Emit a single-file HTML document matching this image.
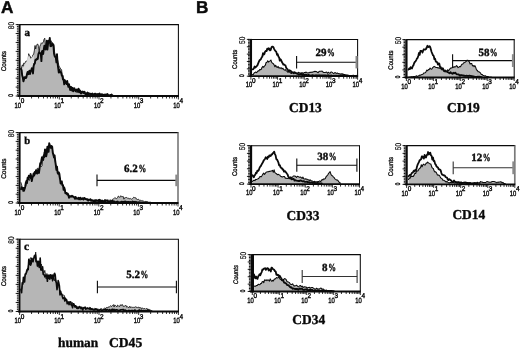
<!DOCTYPE html>
<html lang="en"><head><meta charset="utf-8"><title>Figure</title>
<style>html,body{margin:0;padding:0;background:#fff;}body{width:520px;height:348px;overflow:hidden;}svg{display:block;filter:blur(0.35px);text-rendering:geometricPrecision;font-family:"Liberation Sans",sans-serif;fill:#0a0a0a;}text{stroke:#0a0a0a;stroke-width:0.32px;}.b{stroke-width:0.4px;}.s{font-family:"Liberation Serif",serif;font-weight:bold;stroke:#0a0a0a;stroke-width:0.36px;}.h{font-family:"Liberation Sans",sans-serif;font-weight:bold;stroke:#0a0a0a;stroke-width:0.45px;}</style></head><body>
<svg width="520" height="348" viewBox="0 0 520 348">
<rect width="520" height="348" fill="#fff"/>
<text class="h" x="0.9" y="13.3" font-size="17.2">A</text>
<text class="h" x="196.0" y="13.2" font-size="17.2">B</text>
<path d="M21.0 96.0 L21.0 69.4 L21.7 66.6 L22.4 64.8 L23.1 66.2 L23.8 63.0 L24.5 63.3 L25.2 62.7 L25.9 61.2 L26.6 62.0 L27.3 60.0 L28.0 61.3 L28.7 53.7 L29.4 55.7 L30.1 55.9 L30.8 58.4 L31.5 57.9 L32.2 57.5 L32.9 54.8 L33.6 54.5 L34.3 50.9 L35.0 45.5 L35.7 49.0 L36.4 45.3 L37.1 44.3 L37.8 44.1 L38.5 46.5 L39.2 52.0 L39.9 46.1 L40.6 44.9 L41.3 42.8 L42.0 43.5 L42.7 42.9 L43.4 41.9 L44.1 39.1 L44.8 38.2 L45.5 46.3 L46.2 44.4 L46.9 42.3 L47.6 43.8 L48.3 40.6 L49.0 41.7 L49.7 43.3 L50.4 43.4 L51.1 40.7 L51.8 43.3 L52.5 42.8 L53.2 43.8 L53.9 45.6 L54.6 52.2 L55.3 55.5 L56.0 56.7 L56.7 56.6 L57.4 58.9 L58.1 62.3 L58.8 65.3 L59.5 67.0 L60.2 68.0 L60.9 69.4 L61.6 69.7 L62.3 76.8 L63.0 75.5 L63.7 80.4 L64.4 79.9 L65.1 82.3 L65.8 81.8 L66.5 82.6 L67.2 84.1 L67.9 85.7 L68.6 86.2 L69.3 86.4 L70.0 88.2 L70.7 88.1 L71.4 88.1 L72.1 89.6 L72.8 88.5 L73.5 90.2 L74.2 89.3 L74.9 90.8 L75.6 91.4 L76.3 91.9 L77.0 92.6 L77.7 91.2 L78.4 92.1 L79.1 92.6 L79.8 92.2 L80.5 93.4 L81.2 93.0 L81.9 92.3 L82.6 93.0 L83.3 93.0 L84.0 92.9 L84.7 94.0 L85.4 93.4 L86.1 94.6 L86.8 93.6 L87.5 94.0 L88.2 94.0 L88.9 94.0 L89.6 93.2 L90.3 93.8 L91.0 94.0 L91.7 95.1 L92.4 94.6 L93.1 94.4 L93.8 94.2 L94.5 94.4 L95.2 94.1 L95.9 94.8 L96.6 94.1 L97.3 95.1 L98.0 95.0 L98.7 94.6 L99.4 94.6 L100.1 94.8 L100.8 95.7 L101.5 95.0 L102.2 94.7 L102.9 94.2 L103.6 94.7 L104.3 94.7 L105.0 94.6 L105.7 95.8 L106.4 95.5 L107.1 95.5 L107.8 95.7 L108.5 95.2 L109.2 95.6 L109.9 95.1 L110.6 95.4 L111.3 95.8 L112.0 95.8 L112.7 95.5 L112.7 96.0Z" fill="#b6b6b6" stroke="none"/>
<path d="M21.0 69.4 L21.7 66.6 L22.4 64.8 L23.1 66.2 L23.8 63.0 L24.5 63.3 L25.2 62.7 L25.9 61.2 L26.6 62.0 L27.3 60.0 L28.0 61.3 L28.7 53.7 L29.4 55.7 L30.1 55.9 L30.8 58.4 L31.5 57.9 L32.2 57.5 L32.9 54.8 L33.6 54.5 L34.3 50.9 L35.0 45.5 L35.7 49.0 L36.4 45.3 L37.1 44.3 L37.8 44.1 L38.5 46.5 L39.2 52.0 L39.9 46.1 L40.6 44.9 L41.3 42.8 L42.0 43.5 L42.7 42.9 L43.4 41.9 L44.1 39.1 L44.8 38.2 L45.5 46.3 L46.2 44.4 L46.9 42.3 L47.6 43.8 L48.3 40.6 L49.0 41.7 L49.7 43.3 L50.4 43.4 L51.1 40.7 L51.8 43.3 L52.5 42.8 L53.2 43.8 L53.9 45.6 L54.6 52.2 L55.3 55.5 L56.0 56.7 L56.7 56.6 L57.4 58.9 L58.1 62.3 L58.8 65.3 L59.5 67.0 L60.2 68.0 L60.9 69.4 L61.6 69.7 L62.3 76.8 L63.0 75.5 L63.7 80.4 L64.4 79.9 L65.1 82.3 L65.8 81.8 L66.5 82.6 L67.2 84.1 L67.9 85.7 L68.6 86.2 L69.3 86.4 L70.0 88.2 L70.7 88.1 L71.4 88.1 L72.1 89.6 L72.8 88.5 L73.5 90.2 L74.2 89.3 L74.9 90.8 L75.6 91.4 L76.3 91.9 L77.0 92.6 L77.7 91.2 L78.4 92.1 L79.1 92.6 L79.8 92.2 L80.5 93.4 L81.2 93.0 L81.9 92.3 L82.6 93.0 L83.3 93.0 L84.0 92.9 L84.7 94.0 L85.4 93.4 L86.1 94.6 L86.8 93.6 L87.5 94.0 L88.2 94.0 L88.9 94.0 L89.6 93.2 L90.3 93.8 L91.0 94.0 L91.7 95.1 L92.4 94.6 L93.1 94.4 L93.8 94.2 L94.5 94.4 L95.2 94.1 L95.9 94.8 L96.6 94.1 L97.3 95.1 L98.0 95.0 L98.7 94.6 L99.4 94.6 L100.1 94.8 L100.8 95.7 L101.5 95.0 L102.2 94.7 L102.9 94.2 L103.6 94.7 L104.3 94.7 L105.0 94.6 L105.7 95.8 L106.4 95.5 L107.1 95.5 L107.8 95.7 L108.5 95.2 L109.2 95.6 L109.9 95.1 L110.6 95.4 L111.3 95.8 L112.0 95.8 L112.7 95.5" fill="none" stroke="#0a0a0a" stroke-width="0.80" stroke-linejoin="round" stroke-linecap="round"/>
<path d="M21.5 69.5 L24 66.6 L27 60.5 L28.7 55 L30.5 59 L32.1 57.6 L33.6 54.6 L34 63 L31 69 L27.5 72 L25.5 76 L24 80.5 L23 76 L22 71Z" fill="#dadada"/>
<path d="M21.0 68.8 L21.6 70.1 L22.2 75.6 L22.8 77.6 L23.4 81.4 L24.0 79.4 L24.6 77.1 L25.2 77.1 L25.8 78.1 L26.4 77.2 L27.0 74.0 L27.6 71.9 L28.2 74.2 L28.8 73.1 L29.4 70.7 L30.0 74.1 L30.6 72.0 L31.2 70.4 L31.8 68.3 L32.4 68.4 L33.0 73.5 L33.6 66.4 L34.2 63.8 L34.8 63.7 L35.4 59.9 L36.0 59.4 L36.6 59.7 L37.2 58.5 L37.8 59.0 L38.4 54.0 L39.0 52.5 L39.6 52.5 L40.2 53.4 L40.8 54.0 L41.4 61.1 L42.0 51.3 L42.6 50.9 L43.2 54.0 L43.8 49.2 L44.4 45.7 L45.0 48.5 L45.6 49.4 L46.2 46.0 L46.8 40.7 L47.4 49.6 L48.0 44.3 L48.6 40.6 L49.2 42.3 L49.8 38.0 L50.4 46.1 L51.0 46.2 L51.6 45.8 L52.2 43.5 L52.8 44.6 L53.4 44.6 L54.0 53.5 L54.6 56.0 L55.2 57.0 L55.8 57.4 L56.4 62.3 L57.0 54.1 L57.6 63.7 L58.2 68.1 L58.8 72.5 L59.4 69.7 L60.0 72.4 L60.6 71.8 L61.2 72.7 L61.8 75.5 L62.4 76.1 L63.0 79.6 L63.6 79.3 L64.2 84.4 L64.8 80.2 L65.4 81.6 L66.0 83.0 L66.6 84.1 L67.2 81.0 L67.8 84.5 L68.4 86.9 L69.0 84.1 L69.6 87.2 L70.2 90.0 L70.8 86.9 L71.4 87.3 L72.0 90.5 L72.6 87.9 L73.2 91.4 L73.8 88.6 L74.4 88.2 L75.0 90.1 L75.6 91.2 L76.2 89.9 L76.8 89.4 L77.4 91.6 L78.0 90.3 L78.6 88.7 L79.2 92.3 L79.8 90.3 L80.4 91.2 L81.0 93.5 L81.6 92.2 L82.2 91.5 L82.8 91.9 L83.4 93.0 L84.0 91.7 L84.6 91.9 L85.2 93.8 L85.8 94.1 L86.4 93.2 L87.0 94.3 L87.6 92.6 L88.2 94.4 L88.8 93.3 L89.4 93.8 L90.0 94.2 L90.6 93.7 L91.2 94.5 L91.8 93.9 L92.4 93.6 L93.0 95.0 L93.6 94.9 L94.2 94.1 L94.8 93.7 L95.4 93.8 L96.0 94.4 L96.6 94.2 L97.2 94.4 L97.8 94.1 L98.4 95.4 L99.0 93.9 L99.6 93.6 L100.2 95.4 L100.8 94.8 L101.4 94.3 L102.0 94.6 L102.6 94.4 L103.2 95.1 L103.8 94.9 L104.4 94.8 L105.0 94.5 L105.6 95.0 L106.2 94.4 L106.8 94.8 L107.4 94.0 L108.0 94.9 L108.6 95.4 L109.2 95.7 L109.8 95.5 L110.4 94.9 L111.0 95.7 L111.6 94.5 L112.2 95.2 L112.8 95.7" fill="none" stroke="#0a0a0a" stroke-width="1.90" stroke-linejoin="round" stroke-linecap="round"/>
<path d="M19.60 24.60 H178.90" fill="none" stroke="#0a0a0a" stroke-width="1.05"/>
<path d="M178.40 24.60 V96.00" fill="none" stroke="#0a0a0a" stroke-width="1.05"/>
<path d="M18.10 96.00 H178.90" stroke="#0a0a0a" stroke-width="1.8"/>
<path d="M19.60 24.10 V96.80" stroke="#0a0a0a" stroke-width="2.00"/>
<path d="M16.90 96.00 H18.60M16.90 94.22 H18.60M16.90 92.43 H18.60M16.90 90.64 H18.60M16.90 88.86 H18.60M16.90 87.08 H18.60M16.90 85.29 H18.60M16.90 83.50 H18.60M16.90 81.72 H18.60M16.90 79.94 H18.60M16.90 78.15 H18.60M16.90 76.36 H18.60M16.90 74.58 H18.60M16.90 72.80 H18.60M16.90 71.01 H18.60M16.90 69.22 H18.60M16.90 67.44 H18.60M16.90 65.66 H18.60M16.90 63.87 H18.60M16.90 62.08 H18.60M16.90 60.30 H18.60M16.90 58.52 H18.60M16.90 56.73 H18.60M16.90 54.95 H18.60M16.90 53.16 H18.60M16.90 51.37 H18.60M16.90 49.59 H18.60M16.90 47.80 H18.60M16.90 46.02 H18.60M16.90 44.23 H18.60M16.90 42.45 H18.60M16.90 40.66 H18.60M16.90 38.88 H18.60M16.90 37.09 H18.60M16.90 35.31 H18.60M16.90 33.52 H18.60M16.90 31.74 H18.60M16.90 29.95 H18.60M16.90 28.17 H18.60M16.90 26.38 H18.60M16.90 24.60 H18.60" stroke="#0a0a0a" stroke-width="1.0"/>
<path d="M15.70 96.00 H18.60M15.70 87.08 H18.60M15.70 78.15 H18.60M15.70 69.22 H18.60M15.70 60.30 H18.60M15.70 51.38 H18.60M15.70 42.45 H18.60M15.70 33.52 H18.60M15.70 24.60 H18.60" stroke="#0a0a0a" stroke-width="0.9"/>
<path d="M19.60 96.00 V99.50M31.55 96.00 V98.50M38.54 96.00 V98.50M43.50 96.00 V98.50M47.35 96.00 V98.50M50.49 96.00 V98.50M53.15 96.00 V98.50M55.45 96.00 V98.50M57.48 96.00 V98.50M59.30 96.00 V99.50M71.25 96.00 V98.50M78.24 96.00 V98.50M83.20 96.00 V98.50M87.05 96.00 V98.50M90.19 96.00 V98.50M92.85 96.00 V98.50M95.15 96.00 V98.50M97.18 96.00 V98.50M99.00 96.00 V99.50M110.95 96.00 V98.50M117.94 96.00 V98.50M122.90 96.00 V98.50M126.75 96.00 V98.50M129.89 96.00 V98.50M132.55 96.00 V98.50M134.85 96.00 V98.50M136.88 96.00 V98.50M138.70 96.00 V99.50M150.65 96.00 V98.50M157.64 96.00 V98.50M162.60 96.00 V98.50M166.45 96.00 V98.50M169.59 96.00 V98.50M172.25 96.00 V98.50M174.55 96.00 V98.50M176.58 96.00 V98.50M178.40 96.00 V99.50" stroke="#0a0a0a" stroke-width="0.85"/>
<text class="b" transform="translate(21.05 107.70) scale(0.77 1)" font-size="7.6" text-anchor="end">10</text>
<text class="b" transform="translate(20.70 103.30) scale(0.92 1)" font-size="7.0">0</text>
<text class="b" transform="translate(60.75 107.70) scale(0.77 1)" font-size="7.6" text-anchor="end">10</text>
<text class="b" transform="translate(60.40 103.30) scale(0.92 1)" font-size="7.0">1</text>
<text class="b" transform="translate(100.45 107.70) scale(0.77 1)" font-size="7.6" text-anchor="end">10</text>
<text class="b" transform="translate(100.10 103.30) scale(0.92 1)" font-size="7.0">2</text>
<text class="b" transform="translate(140.15 107.70) scale(0.77 1)" font-size="7.6" text-anchor="end">10</text>
<text class="b" transform="translate(139.80 103.30) scale(0.92 1)" font-size="7.0">3</text>
<text class="b" transform="translate(179.85 107.70) scale(0.77 1)" font-size="7.6" text-anchor="end">10</text>
<text class="b" transform="translate(179.50 103.30) scale(0.92 1)" font-size="7.0">4</text>
<text transform="translate(14.20 25.50) rotate(-90) scale(0.8 1)" font-size="8.2" text-anchor="middle" style="stroke-width:0.22px">80</text>
<text class="b" transform="translate(13.20 95.50) rotate(-90) scale(0.72 1)" font-size="6.6" text-anchor="middle">0</text>
<text transform="translate(6.20 61.10) rotate(-90) scale(0.960 1)" font-size="6.7" text-anchor="middle">Counts</text>
<text class="s" x="24.4" y="35.5" font-size="11">a</text>
<path d="M21.0 203.0 L21.0 182.6 L21.7 185.0 L22.4 188.6 L23.1 191.7 L23.8 188.1 L24.5 188.1 L25.2 188.2 L25.9 185.9 L26.6 182.6 L27.3 179.6 L28.0 177.4 L28.7 178.8 L29.4 180.5 L30.1 178.1 L30.8 179.0 L31.5 176.3 L32.2 176.5 L32.9 177.0 L33.6 175.5 L34.3 172.6 L35.0 173.0 L35.7 173.0 L36.4 171.6 L37.1 168.8 L37.8 167.9 L38.5 169.8 L39.2 168.0 L39.9 167.0 L40.6 165.5 L41.3 166.7 L42.0 166.0 L42.7 159.9 L43.4 158.2 L44.1 152.5 L44.8 153.5 L45.5 151.0 L46.2 151.0 L46.9 148.4 L47.6 151.8 L48.3 145.6 L49.0 145.0 L49.7 148.0 L50.4 148.5 L51.1 146.8 L51.8 147.9 L52.5 149.7 L53.2 155.2 L53.9 156.7 L54.6 157.5 L55.3 162.0 L56.0 165.9 L56.7 170.2 L57.4 170.1 L58.1 172.3 L58.8 173.3 L59.5 179.2 L60.2 177.8 L60.9 181.8 L61.6 182.8 L62.3 184.6 L63.0 186.3 L63.7 187.3 L64.4 189.7 L65.1 190.9 L65.8 193.5 L66.5 193.3 L67.2 195.2 L67.9 194.7 L68.6 196.2 L69.3 195.6 L70.0 196.2 L70.7 197.5 L71.4 197.2 L72.1 196.9 L72.8 196.7 L73.5 196.1 L74.2 197.6 L74.9 197.8 L75.6 197.7 L76.3 198.2 L77.0 198.4 L77.7 198.2 L78.4 199.1 L79.1 198.5 L79.8 198.9 L80.5 200.2 L81.2 198.1 L81.9 198.8 L82.6 199.2 L83.3 199.9 L84.0 199.5 L84.7 199.0 L85.4 199.1 L86.1 200.2 L86.8 199.8 L87.5 200.6 L88.2 200.2 L88.9 200.1 L89.6 199.7 L90.3 199.1 L91.0 199.6 L91.7 199.8 L92.4 199.9 L93.1 200.2 L93.8 199.9 L94.5 201.4 L95.2 201.1 L95.9 201.2 L96.6 201.5 L97.3 201.1 L98.0 201.4 L98.7 201.4 L99.4 201.3 L100.1 201.4 L100.8 201.1 L101.5 201.3 L102.2 201.4 L102.9 201.5 L103.6 201.1 L104.3 200.7 L105.0 200.8 L105.7 200.1 L106.4 200.7 L107.1 199.8 L107.8 200.2 L108.5 200.2 L109.2 200.2 L109.9 200.4 L110.6 199.8 L111.3 200.5 L112.0 199.9 L112.7 199.2 L113.4 199.1 L114.1 198.3 L114.8 197.6 L115.5 198.1 L116.2 198.6 L116.9 198.4 L117.6 197.8 L118.3 196.0 L119.0 196.7 L119.7 197.5 L120.4 196.0 L121.1 195.8 L121.8 196.8 L122.5 196.6 L123.2 196.4 L123.9 199.2 L124.6 197.8 L125.3 197.7 L126.0 197.6 L126.7 197.4 L127.4 198.2 L128.1 198.5 L128.8 198.0 L129.5 198.9 L130.2 198.4 L130.9 198.9 L131.6 199.2 L132.3 198.8 L133.0 198.1 L133.7 197.2 L134.4 197.5 L135.1 197.9 L135.8 197.7 L136.5 199.2 L137.2 199.4 L137.9 199.6 L138.6 199.2 L139.3 200.1 L140.0 200.8 L140.7 200.0 L141.4 200.7 L142.1 200.4 L142.8 201.0 L143.5 200.9 L144.2 201.6 L144.9 202.4 L145.6 201.4 L146.3 201.6 L147.0 202.0 L147.7 202.2 L148.4 202.4 L149.1 202.8 L149.8 202.8 L150.5 202.9 L151.2 202.8 L151.9 203.0 L152.6 203.0 L152.6 203.0Z" fill="#b6b6b6" stroke="none"/>
<path d="M21.0 182.6 L21.7 185.0 L22.4 188.6 L23.1 191.7 L23.8 188.1 L24.5 188.1 L25.2 188.2 L25.9 185.9 L26.6 182.6 L27.3 179.6 L28.0 177.4 L28.7 178.8 L29.4 180.5 L30.1 178.1 L30.8 179.0 L31.5 176.3 L32.2 176.5 L32.9 177.0 L33.6 175.5 L34.3 172.6 L35.0 173.0 L35.7 173.0 L36.4 171.6 L37.1 168.8 L37.8 167.9 L38.5 169.8 L39.2 168.0 L39.9 167.0 L40.6 165.5 L41.3 166.7 L42.0 166.0 L42.7 159.9 L43.4 158.2 L44.1 152.5 L44.8 153.5 L45.5 151.0 L46.2 151.0 L46.9 148.4 L47.6 151.8 L48.3 145.6 L49.0 145.0 L49.7 148.0 L50.4 148.5 L51.1 146.8 L51.8 147.9 L52.5 149.7 L53.2 155.2 L53.9 156.7 L54.6 157.5 L55.3 162.0 L56.0 165.9 L56.7 170.2 L57.4 170.1 L58.1 172.3 L58.8 173.3 L59.5 179.2 L60.2 177.8 L60.9 181.8 L61.6 182.8 L62.3 184.6 L63.0 186.3 L63.7 187.3 L64.4 189.7 L65.1 190.9 L65.8 193.5 L66.5 193.3 L67.2 195.2 L67.9 194.7 L68.6 196.2 L69.3 195.6 L70.0 196.2 L70.7 197.5 L71.4 197.2 L72.1 196.9 L72.8 196.7 L73.5 196.1 L74.2 197.6 L74.9 197.8 L75.6 197.7 L76.3 198.2 L77.0 198.4 L77.7 198.2 L78.4 199.1 L79.1 198.5 L79.8 198.9 L80.5 200.2 L81.2 198.1 L81.9 198.8 L82.6 199.2 L83.3 199.9 L84.0 199.5 L84.7 199.0 L85.4 199.1 L86.1 200.2 L86.8 199.8 L87.5 200.6 L88.2 200.2 L88.9 200.1 L89.6 199.7 L90.3 199.1 L91.0 199.6 L91.7 199.8 L92.4 199.9 L93.1 200.2 L93.8 199.9 L94.5 201.4 L95.2 201.1 L95.9 201.2 L96.6 201.5 L97.3 201.1 L98.0 201.4 L98.7 201.4 L99.4 201.3 L100.1 201.4 L100.8 201.1 L101.5 201.3 L102.2 201.4 L102.9 201.5 L103.6 201.1 L104.3 200.7 L105.0 200.8 L105.7 200.1 L106.4 200.7 L107.1 199.8 L107.8 200.2 L108.5 200.2 L109.2 200.2 L109.9 200.4 L110.6 199.8 L111.3 200.5 L112.0 199.9 L112.7 199.2 L113.4 199.1 L114.1 198.3 L114.8 197.6 L115.5 198.1 L116.2 198.6 L116.9 198.4 L117.6 197.8 L118.3 196.0 L119.0 196.7 L119.7 197.5 L120.4 196.0 L121.1 195.8 L121.8 196.8 L122.5 196.6 L123.2 196.4 L123.9 199.2 L124.6 197.8 L125.3 197.7 L126.0 197.6 L126.7 197.4 L127.4 198.2 L128.1 198.5 L128.8 198.0 L129.5 198.9 L130.2 198.4 L130.9 198.9 L131.6 199.2 L132.3 198.8 L133.0 198.1 L133.7 197.2 L134.4 197.5 L135.1 197.9 L135.8 197.7 L136.5 199.2 L137.2 199.4 L137.9 199.6 L138.6 199.2 L139.3 200.1 L140.0 200.8 L140.7 200.0 L141.4 200.7 L142.1 200.4 L142.8 201.0 L143.5 200.9 L144.2 201.6 L144.9 202.4 L145.6 201.4 L146.3 201.6 L147.0 202.0 L147.7 202.2 L148.4 202.4 L149.1 202.8 L149.8 202.8 L150.5 202.9 L151.2 202.8 L151.9 203.0 L152.6 203.0" fill="none" stroke="#0a0a0a" stroke-width="0.80" stroke-linejoin="round" stroke-linecap="round"/>
<path d="M21.0 189.2 L21.6 187.2 L22.2 188.0 L22.8 189.5 L23.4 187.9 L24.0 190.7 L24.6 189.0 L25.2 186.4 L25.8 182.8 L26.4 181.1 L27.0 183.1 L27.6 177.8 L28.2 179.4 L28.8 175.8 L29.4 176.5 L30.0 177.5 L30.6 174.0 L31.2 176.3 L31.8 181.1 L32.4 177.8 L33.0 176.3 L33.6 173.5 L34.2 175.6 L34.8 172.0 L35.4 173.6 L36.0 170.2 L36.6 173.1 L37.2 173.6 L37.8 170.4 L38.4 170.0 L39.0 173.0 L39.6 168.1 L40.2 163.3 L40.8 164.1 L41.4 160.2 L42.0 157.2 L42.6 157.6 L43.2 160.0 L43.8 155.1 L44.4 157.0 L45.0 149.4 L45.6 152.5 L46.2 156.4 L46.8 153.3 L47.4 146.7 L48.0 149.5 L48.6 151.9 L49.2 143.3 L49.8 145.0 L50.4 146.9 L51.0 147.7 L51.6 146.0 L52.2 146.8 L52.8 152.8 L53.4 154.4 L54.0 157.5 L54.6 155.4 L55.2 160.6 L55.8 165.1 L56.4 169.8 L57.0 166.7 L57.6 172.7 L58.2 173.8 L58.8 172.4 L59.4 173.9 L60.0 178.5 L60.6 183.5 L61.2 182.3 L61.8 181.4 L62.4 185.4 L63.0 185.1 L63.6 189.8 L64.2 187.4 L64.8 189.5 L65.4 193.4 L66.0 193.0 L66.6 193.0 L67.2 194.3 L67.8 193.6 L68.4 195.2 L69.0 197.8 L69.6 196.4 L70.2 196.3 L70.8 196.3 L71.4 196.3 L72.0 195.7 L72.6 196.2 L73.2 196.8 L73.8 196.9 L74.4 197.7 L75.0 198.7 L75.6 196.9 L76.2 198.5 L76.8 198.2 L77.4 198.7 L78.0 198.5 L78.6 197.7 L79.2 199.3 L79.8 198.3 L80.4 197.7 L81.0 198.6 L81.6 199.1 L82.2 198.4 L82.8 198.3 L83.4 199.4 L84.0 198.2 L84.6 198.0 L85.2 199.0 L85.8 198.9 L86.4 199.1 L87.0 199.2 L87.6 199.2 L88.2 200.6 L88.8 199.7 L89.4 199.7 L90.0 199.9 L90.6 199.3 L91.2 200.8 L91.8 200.6 L92.4 200.4 L93.0 201.0 L93.6 201.5 L94.2 201.1 L94.8 200.2 L95.4 201.0 L96.0 200.1 L96.6 200.5 L97.2 200.9 L97.8 200.9 L98.4 200.1 L99.0 201.3 L99.6 199.8 L100.2 200.3 L100.8 201.6 L101.4 201.0 L102.0 200.5 L102.6 201.1 L103.2 201.5 L103.8 201.1 L104.4 201.5 L105.0 200.1 L105.6 201.0 L106.2 200.4 L106.8 200.9 L107.4 200.6 L108.0 201.3 L108.6 202.4 L109.2 201.7 L109.8 201.9 L110.4 201.0 L111.0 202.0 L111.6 201.7 L112.2 200.7 L112.8 201.4 L113.4 201.2 L114.0 202.1 L114.6 201.6 L115.2 202.8 L115.8 202.5 L116.4 201.8 L117.0 202.2 L117.6 201.6 L118.2 202.1 L118.8 202.3 L119.4 202.7 L120.0 202.2 L120.6 202.2 L121.2 202.0 L121.8 201.7 L122.4 202.0 L123.0 202.0 L123.6 202.2 L124.2 201.6 L124.8 202.4 L125.4 201.5 L126.0 201.9 L126.6 202.3 L127.2 202.0 L127.8 202.4 L128.4 201.9 L129.0 202.1 L129.6 202.2 L130.2 202.0 L130.8 202.2 L131.4 202.6 L132.0 202.0 L132.6 201.5 L133.2 202.1 L133.8 202.0 L134.4 202.1 L135.0 201.7 L135.6 202.6 L136.2 201.9 L136.8 202.4 L137.4 202.7 L138.0 202.5 L138.6 202.3 L139.2 202.3 L139.8 202.7 L140.4 202.5 L141.0 202.6 L141.6 202.6 L142.2 202.5 L142.8 202.8 L143.4 202.6 L144.0 202.6 L144.6 202.9 L145.2 202.5 L145.8 202.6 L146.4 202.9 L147.0 202.4 L147.6 202.8 L148.2 202.6 L148.8 202.8 L149.4 203.0 L150.0 202.6" fill="none" stroke="#0a0a0a" stroke-width="1.90" stroke-linejoin="round" stroke-linecap="round"/>
<path d="M19.60 132.60 H178.50" fill="none" stroke="#0a0a0a" stroke-width="1.05"/>
<path d="M178.00 132.60 V203.00" fill="none" stroke="#6e6e6e" stroke-width="1.50"/>
<path d="M18.10 203.00 H178.50" stroke="#0a0a0a" stroke-width="1.8"/>
<path d="M19.60 132.10 V203.80" stroke="#0a0a0a" stroke-width="2.00"/>
<path d="M16.90 203.00 H18.60M16.90 201.24 H18.60M16.90 199.48 H18.60M16.90 197.72 H18.60M16.90 195.96 H18.60M16.90 194.20 H18.60M16.90 192.44 H18.60M16.90 190.68 H18.60M16.90 188.92 H18.60M16.90 187.16 H18.60M16.90 185.40 H18.60M16.90 183.64 H18.60M16.90 181.88 H18.60M16.90 180.12 H18.60M16.90 178.36 H18.60M16.90 176.60 H18.60M16.90 174.84 H18.60M16.90 173.08 H18.60M16.90 171.32 H18.60M16.90 169.56 H18.60M16.90 167.80 H18.60M16.90 166.04 H18.60M16.90 164.28 H18.60M16.90 162.52 H18.60M16.90 160.76 H18.60M16.90 159.00 H18.60M16.90 157.24 H18.60M16.90 155.48 H18.60M16.90 153.72 H18.60M16.90 151.96 H18.60M16.90 150.20 H18.60M16.90 148.44 H18.60M16.90 146.68 H18.60M16.90 144.92 H18.60M16.90 143.16 H18.60M16.90 141.40 H18.60M16.90 139.64 H18.60M16.90 137.88 H18.60M16.90 136.12 H18.60M16.90 134.36 H18.60M16.90 132.60 H18.60" stroke="#0a0a0a" stroke-width="1.0"/>
<path d="M15.70 203.00 H18.60M15.70 194.20 H18.60M15.70 185.40 H18.60M15.70 176.60 H18.60M15.70 167.80 H18.60M15.70 159.00 H18.60M15.70 150.20 H18.60M15.70 141.40 H18.60M15.70 132.60 H18.60" stroke="#0a0a0a" stroke-width="0.9"/>
<path d="M19.60 203.00 V206.50M31.52 203.00 V205.50M38.49 203.00 V205.50M43.44 203.00 V205.50M47.28 203.00 V205.50M50.41 203.00 V205.50M53.07 203.00 V205.50M55.36 203.00 V205.50M57.39 203.00 V205.50M59.20 203.00 V206.50M71.12 203.00 V205.50M78.09 203.00 V205.50M83.04 203.00 V205.50M86.88 203.00 V205.50M90.01 203.00 V205.50M92.67 203.00 V205.50M94.96 203.00 V205.50M96.99 203.00 V205.50M98.80 203.00 V206.50M110.72 203.00 V205.50M117.69 203.00 V205.50M122.64 203.00 V205.50M126.48 203.00 V205.50M129.61 203.00 V205.50M132.27 203.00 V205.50M134.56 203.00 V205.50M136.59 203.00 V205.50M138.40 203.00 V206.50M150.32 203.00 V205.50M157.29 203.00 V205.50M162.24 203.00 V205.50M166.08 203.00 V205.50M169.21 203.00 V205.50M171.87 203.00 V205.50M174.16 203.00 V205.50M176.19 203.00 V205.50M178.00 203.00 V206.50" stroke="#0a0a0a" stroke-width="0.85"/>
<text class="b" transform="translate(21.05 214.70) scale(0.77 1)" font-size="7.6" text-anchor="end">10</text>
<text class="b" transform="translate(20.70 210.30) scale(0.92 1)" font-size="7.0">0</text>
<text class="b" transform="translate(60.65 214.70) scale(0.77 1)" font-size="7.6" text-anchor="end">10</text>
<text class="b" transform="translate(60.30 210.30) scale(0.92 1)" font-size="7.0">1</text>
<text class="b" transform="translate(100.25 214.70) scale(0.77 1)" font-size="7.6" text-anchor="end">10</text>
<text class="b" transform="translate(99.90 210.30) scale(0.92 1)" font-size="7.0">2</text>
<text class="b" transform="translate(139.85 214.70) scale(0.77 1)" font-size="7.6" text-anchor="end">10</text>
<text class="b" transform="translate(139.50 210.30) scale(0.92 1)" font-size="7.0">3</text>
<text class="b" transform="translate(179.45 214.70) scale(0.77 1)" font-size="7.6" text-anchor="end">10</text>
<text class="b" transform="translate(179.10 210.30) scale(0.92 1)" font-size="7.0">4</text>
<text transform="translate(14.20 133.50) rotate(-90) scale(0.8 1)" font-size="8.2" text-anchor="middle" style="stroke-width:0.22px">80</text>
<text class="b" transform="translate(13.20 202.50) rotate(-90) scale(0.72 1)" font-size="6.6" text-anchor="middle">0</text>
<text transform="translate(6.20 168.60) rotate(-90) scale(0.960 1)" font-size="6.7" text-anchor="middle">Counts</text>
<text class="s" x="24.3" y="143.8" font-size="10.6">b</text>
<path d="M97.0 180.4 H176.0" stroke="#0a0a0a" stroke-width="1.1"/>
<path d="M97.0 174.6 V186.2" stroke="#0a0a0a" stroke-width="1.1"/>
<path d="M176.4 174.6 V186.2" stroke="#8a8a8a" stroke-width="2.2"/>
<text class="s" x="124.1" y="171.5" font-size="11">6.2<tspan x="138.5" textLength="7.7" lengthAdjust="spacingAndGlyphs">%</tspan></text>
<path d="M21.0 311.5 L21.0 289.1 L21.7 289.5 L22.4 285.8 L23.1 283.2 L23.8 280.3 L24.5 277.0 L25.2 275.3 L25.9 273.1 L26.6 269.7 L27.3 269.1 L28.0 267.4 L28.7 263.3 L29.4 263.0 L30.1 258.1 L30.8 257.7 L31.5 259.4 L32.2 261.1 L32.9 261.4 L33.6 257.4 L34.3 255.1 L35.0 257.9 L35.7 252.1 L36.4 259.4 L37.1 266.5 L37.8 266.7 L38.5 265.2 L39.2 268.1 L39.9 265.0 L40.6 268.0 L41.3 264.0 L42.0 267.6 L42.7 269.5 L43.4 273.5 L44.1 272.6 L44.8 270.4 L45.5 275.0 L46.2 279.0 L46.9 273.5 L47.6 279.1 L48.3 276.3 L49.0 277.4 L49.7 278.4 L50.4 275.3 L51.1 275.5 L51.8 278.4 L52.5 281.4 L53.2 277.5 L53.9 277.4 L54.6 280.8 L55.3 277.8 L56.0 282.0 L56.7 282.4 L57.4 284.8 L58.1 284.3 L58.8 286.7 L59.5 288.9 L60.2 294.3 L60.9 294.9 L61.6 293.8 L62.3 295.2 L63.0 295.6 L63.7 295.0 L64.4 295.5 L65.1 299.1 L65.8 298.8 L66.5 301.3 L67.2 301.1 L67.9 301.5 L68.6 303.1 L69.3 304.0 L70.0 305.0 L70.7 303.8 L71.4 304.7 L72.1 302.2 L72.8 304.6 L73.5 304.8 L74.2 305.0 L74.9 305.9 L75.6 306.9 L76.3 307.0 L77.0 307.1 L77.7 306.6 L78.4 307.1 L79.1 308.2 L79.8 307.5 L80.5 308.0 L81.2 307.2 L81.9 306.9 L82.6 307.3 L83.3 308.6 L84.0 307.5 L84.7 308.7 L85.4 308.2 L86.1 308.6 L86.8 308.7 L87.5 307.5 L88.2 308.0 L88.9 308.0 L89.6 309.5 L90.3 310.1 L91.0 308.8 L91.7 308.9 L92.4 308.4 L93.1 309.2 L93.8 308.6 L94.5 308.3 L95.2 309.0 L95.9 308.1 L96.6 309.5 L97.3 309.2 L98.0 309.6 L98.7 309.2 L99.4 309.5 L100.1 308.7 L100.8 309.2 L101.5 308.6 L102.2 309.2 L102.9 309.4 L103.6 308.7 L104.3 308.1 L105.0 308.6 L105.7 308.3 L106.4 307.5 L107.1 307.3 L107.8 307.9 L108.5 306.8 L109.2 307.4 L109.9 306.3 L110.6 305.6 L111.3 306.5 L112.0 306.2 L112.7 305.3 L113.4 304.6 L114.1 307.0 L114.8 304.9 L115.5 305.5 L116.2 306.0 L116.9 306.9 L117.6 305.1 L118.3 305.6 L119.0 306.6 L119.7 306.4 L120.4 304.7 L121.1 305.8 L121.8 304.6 L122.5 304.7 L123.2 306.5 L123.9 306.1 L124.6 306.1 L125.3 305.7 L126.0 305.3 L126.7 307.2 L127.4 306.5 L128.1 307.6 L128.8 307.5 L129.5 306.3 L130.2 307.8 L130.9 306.6 L131.6 307.4 L132.3 307.3 L133.0 307.6 L133.7 307.3 L134.4 307.3 L135.1 307.5 L135.8 306.5 L136.5 307.5 L137.2 307.4 L137.9 307.6 L138.6 307.0 L139.3 308.2 L140.0 307.2 L140.7 308.4 L141.4 308.9 L142.1 307.7 L142.8 308.7 L143.5 308.7 L144.2 308.6 L144.9 308.4 L145.6 309.2 L146.3 308.8 L147.0 308.2 L147.7 310.0 L148.4 309.3 L149.1 309.2 L149.8 310.0 L150.5 309.9 L151.2 310.6 L151.9 310.4 L152.6 311.4 L152.6 311.5Z" fill="#b6b6b6" stroke="none"/>
<path d="M21.0 289.1 L21.7 289.5 L22.4 285.8 L23.1 283.2 L23.8 280.3 L24.5 277.0 L25.2 275.3 L25.9 273.1 L26.6 269.7 L27.3 269.1 L28.0 267.4 L28.7 263.3 L29.4 263.0 L30.1 258.1 L30.8 257.7 L31.5 259.4 L32.2 261.1 L32.9 261.4 L33.6 257.4 L34.3 255.1 L35.0 257.9 L35.7 252.1 L36.4 259.4 L37.1 266.5 L37.8 266.7 L38.5 265.2 L39.2 268.1 L39.9 265.0 L40.6 268.0 L41.3 264.0 L42.0 267.6 L42.7 269.5 L43.4 273.5 L44.1 272.6 L44.8 270.4 L45.5 275.0 L46.2 279.0 L46.9 273.5 L47.6 279.1 L48.3 276.3 L49.0 277.4 L49.7 278.4 L50.4 275.3 L51.1 275.5 L51.8 278.4 L52.5 281.4 L53.2 277.5 L53.9 277.4 L54.6 280.8 L55.3 277.8 L56.0 282.0 L56.7 282.4 L57.4 284.8 L58.1 284.3 L58.8 286.7 L59.5 288.9 L60.2 294.3 L60.9 294.9 L61.6 293.8 L62.3 295.2 L63.0 295.6 L63.7 295.0 L64.4 295.5 L65.1 299.1 L65.8 298.8 L66.5 301.3 L67.2 301.1 L67.9 301.5 L68.6 303.1 L69.3 304.0 L70.0 305.0 L70.7 303.8 L71.4 304.7 L72.1 302.2 L72.8 304.6 L73.5 304.8 L74.2 305.0 L74.9 305.9 L75.6 306.9 L76.3 307.0 L77.0 307.1 L77.7 306.6 L78.4 307.1 L79.1 308.2 L79.8 307.5 L80.5 308.0 L81.2 307.2 L81.9 306.9 L82.6 307.3 L83.3 308.6 L84.0 307.5 L84.7 308.7 L85.4 308.2 L86.1 308.6 L86.8 308.7 L87.5 307.5 L88.2 308.0 L88.9 308.0 L89.6 309.5 L90.3 310.1 L91.0 308.8 L91.7 308.9 L92.4 308.4 L93.1 309.2 L93.8 308.6 L94.5 308.3 L95.2 309.0 L95.9 308.1 L96.6 309.5 L97.3 309.2 L98.0 309.6 L98.7 309.2 L99.4 309.5 L100.1 308.7 L100.8 309.2 L101.5 308.6 L102.2 309.2 L102.9 309.4 L103.6 308.7 L104.3 308.1 L105.0 308.6 L105.7 308.3 L106.4 307.5 L107.1 307.3 L107.8 307.9 L108.5 306.8 L109.2 307.4 L109.9 306.3 L110.6 305.6 L111.3 306.5 L112.0 306.2 L112.7 305.3 L113.4 304.6 L114.1 307.0 L114.8 304.9 L115.5 305.5 L116.2 306.0 L116.9 306.9 L117.6 305.1 L118.3 305.6 L119.0 306.6 L119.7 306.4 L120.4 304.7 L121.1 305.8 L121.8 304.6 L122.5 304.7 L123.2 306.5 L123.9 306.1 L124.6 306.1 L125.3 305.7 L126.0 305.3 L126.7 307.2 L127.4 306.5 L128.1 307.6 L128.8 307.5 L129.5 306.3 L130.2 307.8 L130.9 306.6 L131.6 307.4 L132.3 307.3 L133.0 307.6 L133.7 307.3 L134.4 307.3 L135.1 307.5 L135.8 306.5 L136.5 307.5 L137.2 307.4 L137.9 307.6 L138.6 307.0 L139.3 308.2 L140.0 307.2 L140.7 308.4 L141.4 308.9 L142.1 307.7 L142.8 308.7 L143.5 308.7 L144.2 308.6 L144.9 308.4 L145.6 309.2 L146.3 308.8 L147.0 308.2 L147.7 310.0 L148.4 309.3 L149.1 309.2 L149.8 310.0 L150.5 309.9 L151.2 310.6 L151.9 310.4 L152.6 311.4" fill="none" stroke="#0a0a0a" stroke-width="0.80" stroke-linejoin="round" stroke-linecap="round"/>
<path d="M21.0 289.6 L21.6 292.7 L22.2 282.9 L22.8 284.0 L23.4 277.2 L24.0 279.2 L24.6 282.0 L25.2 274.0 L25.8 274.3 L26.4 272.8 L27.0 270.9 L27.6 268.9 L28.2 269.7 L28.8 259.4 L29.4 264.5 L30.0 260.6 L30.6 265.2 L31.2 263.4 L31.8 258.2 L32.4 259.9 L33.0 261.8 L33.6 258.7 L34.2 257.6 L34.8 256.4 L35.4 254.8 L36.0 261.8 L36.6 261.3 L37.2 261.4 L37.8 265.8 L38.4 261.3 L39.0 264.1 L39.6 267.0 L40.2 258.0 L40.8 270.0 L41.4 269.7 L42.0 270.2 L42.6 266.9 L43.2 274.3 L43.8 274.6 L44.4 275.2 L45.0 277.0 L45.6 275.6 L46.2 275.3 L46.8 275.7 L47.4 281.3 L48.0 275.0 L48.6 278.3 L49.2 275.3 L49.8 279.2 L50.4 274.8 L51.0 275.2 L51.6 278.3 L52.2 275.1 L52.8 280.1 L53.4 278.3 L54.0 274.3 L54.6 273.3 L55.2 274.9 L55.8 281.0 L56.4 283.3 L57.0 289.6 L57.6 285.7 L58.2 280.6 L58.8 282.8 L59.4 285.8 L60.0 294.9 L60.6 291.3 L61.2 293.6 L61.8 294.3 L62.4 296.8 L63.0 298.6 L63.6 297.9 L64.2 297.6 L64.8 301.0 L65.4 298.3 L66.0 300.3 L66.6 299.7 L67.2 303.8 L67.8 303.2 L68.4 302.0 L69.0 304.7 L69.6 302.0 L70.2 301.9 L70.8 302.0 L71.4 305.4 L72.0 305.3 L72.6 307.7 L73.2 303.8 L73.8 303.7 L74.4 305.4 L75.0 307.1 L75.6 305.8 L76.2 306.4 L76.8 308.2 L77.4 308.5 L78.0 307.6 L78.6 308.3 L79.2 306.6 L79.8 307.2 L80.4 307.1 L81.0 308.6 L81.6 307.7 L82.2 308.9 L82.8 310.0 L83.4 308.3 L84.0 307.5 L84.6 307.6 L85.2 307.2 L85.8 309.3 L86.4 308.2 L87.0 308.3 L87.6 308.6 L88.2 308.7 L88.8 308.6 L89.4 309.0 L90.0 307.7 L90.6 308.5 L91.2 309.4 L91.8 308.8 L92.4 309.3 L93.0 309.7 L93.6 309.9 L94.2 310.0 L94.8 309.7 L95.4 309.7 L96.0 309.1 L96.6 309.7 L97.2 309.4 L97.8 310.5 L98.4 310.9 L99.0 310.0 L99.6 310.1 L100.2 310.0 L100.8 309.5 L101.4 310.0 L102.0 311.3 L102.6 310.8 L103.2 309.9 L103.8 309.6 L104.4 309.9 L105.0 309.9 L105.6 309.2 L106.2 310.6 L106.8 309.5 L107.4 309.6 L108.0 309.9 L108.6 310.5 L109.2 310.2 L109.8 309.7 L110.4 310.3 L111.0 310.7 L111.6 309.8 L112.2 309.2 L112.8 310.5 L113.4 309.9 L114.0 309.3 L114.6 310.9 L115.2 310.7 L115.8 309.7 L116.4 309.7 L117.0 309.9 L117.6 310.0 L118.2 310.5 L118.8 310.5 L119.4 310.2 L120.0 310.4 L120.6 309.7 L121.2 309.7 L121.8 309.8 L122.4 309.6 L123.0 309.9 L123.6 309.5 L124.2 310.9 L124.8 310.8 L125.4 310.1 L126.0 310.9 L126.6 310.8 L127.2 310.9 L127.8 311.3 L128.4 311.1 L129.0 310.3 L129.6 311.2 L130.2 311.0 L130.8 310.8 L131.4 310.6 L132.0 310.7 L132.6 310.5 L133.2 310.9 L133.8 310.8 L134.4 310.4 L135.0 310.0 L135.6 310.8 L136.2 311.3 L136.8 311.3 L137.4 310.9 L138.0 310.7 L138.6 310.8 L139.2 309.9 L139.8 310.8 L140.4 310.9 L141.0 310.4 L141.6 310.4 L142.2 310.9 L142.8 310.8 L143.4 310.7 L144.0 310.5 L144.6 310.8 L145.2 311.0 L145.8 310.7 L146.4 311.2 L147.0 310.5 L147.6 310.6 L148.2 310.2 L148.8 310.7 L149.4 310.8 L150.0 310.9" fill="none" stroke="#0a0a0a" stroke-width="1.60" stroke-linejoin="round" stroke-linecap="round"/>
<path d="M19.60 239.20 H178.90" fill="none" stroke="#0a0a0a" stroke-width="1.05"/>
<path d="M178.40 239.20 V311.50" fill="none" stroke="#0a0a0a" stroke-width="1.05"/>
<path d="M18.10 311.50 H178.90" stroke="#0a0a0a" stroke-width="1.8"/>
<path d="M19.60 238.70 V312.30" stroke="#0a0a0a" stroke-width="2.00"/>
<path d="M16.90 311.50 H18.60M16.90 309.69 H18.60M16.90 307.88 H18.60M16.90 306.08 H18.60M16.90 304.27 H18.60M16.90 302.46 H18.60M16.90 300.65 H18.60M16.90 298.85 H18.60M16.90 297.04 H18.60M16.90 295.23 H18.60M16.90 293.43 H18.60M16.90 291.62 H18.60M16.90 289.81 H18.60M16.90 288.00 H18.60M16.90 286.19 H18.60M16.90 284.39 H18.60M16.90 282.58 H18.60M16.90 280.77 H18.60M16.90 278.96 H18.60M16.90 277.16 H18.60M16.90 275.35 H18.60M16.90 273.54 H18.60M16.90 271.74 H18.60M16.90 269.93 H18.60M16.90 268.12 H18.60M16.90 266.31 H18.60M16.90 264.50 H18.60M16.90 262.70 H18.60M16.90 260.89 H18.60M16.90 259.08 H18.60M16.90 257.27 H18.60M16.90 255.47 H18.60M16.90 253.66 H18.60M16.90 251.85 H18.60M16.90 250.04 H18.60M16.90 248.24 H18.60M16.90 246.43 H18.60M16.90 244.62 H18.60M16.90 242.81 H18.60M16.90 241.01 H18.60M16.90 239.20 H18.60" stroke="#0a0a0a" stroke-width="1.0"/>
<path d="M15.70 311.50 H18.60M15.70 302.46 H18.60M15.70 293.43 H18.60M15.70 284.39 H18.60M15.70 275.35 H18.60M15.70 266.31 H18.60M15.70 257.27 H18.60M15.70 248.24 H18.60M15.70 239.20 H18.60" stroke="#0a0a0a" stroke-width="0.9"/>
<path d="M19.60 311.50 V315.00M31.55 311.50 V314.00M38.54 311.50 V314.00M43.50 311.50 V314.00M47.35 311.50 V314.00M50.49 311.50 V314.00M53.15 311.50 V314.00M55.45 311.50 V314.00M57.48 311.50 V314.00M59.30 311.50 V315.00M71.25 311.50 V314.00M78.24 311.50 V314.00M83.20 311.50 V314.00M87.05 311.50 V314.00M90.19 311.50 V314.00M92.85 311.50 V314.00M95.15 311.50 V314.00M97.18 311.50 V314.00M99.00 311.50 V315.00M110.95 311.50 V314.00M117.94 311.50 V314.00M122.90 311.50 V314.00M126.75 311.50 V314.00M129.89 311.50 V314.00M132.55 311.50 V314.00M134.85 311.50 V314.00M136.88 311.50 V314.00M138.70 311.50 V315.00M150.65 311.50 V314.00M157.64 311.50 V314.00M162.60 311.50 V314.00M166.45 311.50 V314.00M169.59 311.50 V314.00M172.25 311.50 V314.00M174.55 311.50 V314.00M176.58 311.50 V314.00M178.40 311.50 V315.00" stroke="#0a0a0a" stroke-width="0.85"/>
<text class="b" transform="translate(21.05 323.20) scale(0.77 1)" font-size="7.6" text-anchor="end">10</text>
<text class="b" transform="translate(20.70 318.80) scale(0.92 1)" font-size="7.0">0</text>
<text class="b" transform="translate(60.75 323.20) scale(0.77 1)" font-size="7.6" text-anchor="end">10</text>
<text class="b" transform="translate(60.40 318.80) scale(0.92 1)" font-size="7.0">1</text>
<text class="b" transform="translate(100.45 323.20) scale(0.77 1)" font-size="7.6" text-anchor="end">10</text>
<text class="b" transform="translate(100.10 318.80) scale(0.92 1)" font-size="7.0">2</text>
<text class="b" transform="translate(140.15 323.20) scale(0.77 1)" font-size="7.6" text-anchor="end">10</text>
<text class="b" transform="translate(139.80 318.80) scale(0.92 1)" font-size="7.0">3</text>
<text class="b" transform="translate(179.85 323.20) scale(0.77 1)" font-size="7.6" text-anchor="end">10</text>
<text class="b" transform="translate(179.50 318.80) scale(0.92 1)" font-size="7.0">4</text>
<text transform="translate(14.20 240.10) rotate(-90) scale(0.8 1)" font-size="8.2" text-anchor="middle" style="stroke-width:0.22px">80</text>
<text class="b" transform="translate(13.20 311.00) rotate(-90) scale(0.72 1)" font-size="6.6" text-anchor="middle">0</text>
<text transform="translate(6.20 276.15) rotate(-90) scale(0.960 1)" font-size="6.7" text-anchor="middle">Counts</text>
<text class="s" x="24.0" y="250.3" font-size="11.4">c</text>
<path d="M97.4 287.0 H176.4" stroke="#0a0a0a" stroke-width="1.1"/>
<path d="M97.4 280.8 V293.2" stroke="#0a0a0a" stroke-width="1.1"/>
<path d="M176.4 280.8 V293.2" stroke="#0a0a0a" stroke-width="1.1"/>
<text class="s" x="126.3" y="278.0" font-size="11">5.2<tspan x="140.4" textLength="7.7" lengthAdjust="spacingAndGlyphs">%</tspan></text>
<text class="s" x="58.0" y="346.8" font-size="13.6" textLength="40.2" lengthAdjust="spacingAndGlyphs">human</text>
<text class="s" x="109.0" y="346.8" font-size="13.6" textLength="33.2" lengthAdjust="spacingAndGlyphs">CD45</text>
<path d="M252.5 76.2 L252.5 74.6 L253.3 74.4 L254.1 72.9 L254.9 72.6 L255.7 72.0 L256.5 72.6 L257.3 71.9 L258.1 70.7 L258.9 71.0 L259.7 69.6 L260.5 69.8 L261.3 69.3 L262.1 67.3 L262.9 66.3 L263.7 67.3 L264.5 65.9 L265.3 65.4 L266.1 62.5 L266.9 62.4 L267.7 60.7 L268.5 62.1 L269.3 61.4 L270.1 60.9 L270.9 60.0 L271.7 62.3 L272.5 63.2 L273.3 63.6 L274.1 64.9 L274.9 66.8 L275.7 65.3 L276.5 66.9 L277.3 67.5 L278.1 66.4 L278.9 68.0 L279.7 67.8 L280.5 68.3 L281.3 67.7 L282.1 69.0 L282.9 68.2 L283.7 69.6 L284.5 70.2 L285.3 69.6 L286.1 70.7 L286.9 71.0 L287.7 72.1 L288.5 71.7 L289.3 72.0 L290.1 72.3 L290.9 73.3 L291.7 73.4 L292.5 72.4 L293.3 72.3 L294.1 72.2 L294.9 73.2 L295.7 72.9 L296.5 73.4 L297.3 73.1 L298.1 72.7 L298.9 72.2 L299.7 73.3 L300.5 73.0 L301.3 73.4 L302.1 72.6 L302.9 73.5 L303.7 73.0 L304.5 72.5 L305.3 72.6 L306.1 72.0 L306.9 72.8 L307.7 73.0 L308.5 72.8 L309.3 72.8 L310.1 72.1 L310.9 72.5 L311.7 72.1 L312.5 72.2 L313.3 71.8 L314.1 71.7 L314.9 71.3 L315.7 71.6 L316.5 71.6 L317.3 72.1 L318.1 72.8 L318.9 71.6 L319.7 71.2 L320.5 71.3 L321.3 71.3 L322.1 71.1 L322.9 72.0 L323.7 72.5 L324.5 72.6 L325.3 72.5 L326.1 72.1 L326.9 72.3 L327.7 73.3 L328.5 72.2 L329.3 73.0 L330.1 73.2 L330.9 72.0 L331.7 72.1 L332.5 72.7 L333.3 73.4 L334.1 73.3 L334.9 72.5 L335.7 73.0 L336.5 73.4 L337.3 73.1 L338.1 73.4 L338.9 73.8 L339.7 73.8 L340.5 74.3 L341.3 73.7 L342.1 74.3 L342.9 73.8 L343.7 74.7 L344.5 74.5 L345.3 74.8 L346.1 75.3 L346.9 74.9 L347.7 75.2 L348.5 75.3 L349.3 75.8 L350.1 75.5 L350.9 75.7 L351.7 75.7 L352.5 75.8 L353.3 75.8 L354.1 75.9 L354.9 76.0 L355.7 75.9 L355.7 76.2Z" fill="#b6b6b6" stroke="none"/>
<path d="M252.5 74.6 L253.3 74.4 L254.1 72.9 L254.9 72.6 L255.7 72.0 L256.5 72.6 L257.3 71.9 L258.1 70.7 L258.9 71.0 L259.7 69.6 L260.5 69.8 L261.3 69.3 L262.1 67.3 L262.9 66.3 L263.7 67.3 L264.5 65.9 L265.3 65.4 L266.1 62.5 L266.9 62.4 L267.7 60.7 L268.5 62.1 L269.3 61.4 L270.1 60.9 L270.9 60.0 L271.7 62.3 L272.5 63.2 L273.3 63.6 L274.1 64.9 L274.9 66.8 L275.7 65.3 L276.5 66.9 L277.3 67.5 L278.1 66.4 L278.9 68.0 L279.7 67.8 L280.5 68.3 L281.3 67.7 L282.1 69.0 L282.9 68.2 L283.7 69.6 L284.5 70.2 L285.3 69.6 L286.1 70.7 L286.9 71.0 L287.7 72.1 L288.5 71.7 L289.3 72.0 L290.1 72.3 L290.9 73.3 L291.7 73.4 L292.5 72.4 L293.3 72.3 L294.1 72.2 L294.9 73.2 L295.7 72.9 L296.5 73.4 L297.3 73.1 L298.1 72.7 L298.9 72.2 L299.7 73.3 L300.5 73.0 L301.3 73.4 L302.1 72.6 L302.9 73.5 L303.7 73.0 L304.5 72.5 L305.3 72.6 L306.1 72.0 L306.9 72.8 L307.7 73.0 L308.5 72.8 L309.3 72.8 L310.1 72.1 L310.9 72.5 L311.7 72.1 L312.5 72.2 L313.3 71.8 L314.1 71.7 L314.9 71.3 L315.7 71.6 L316.5 71.6 L317.3 72.1 L318.1 72.8 L318.9 71.6 L319.7 71.2 L320.5 71.3 L321.3 71.3 L322.1 71.1 L322.9 72.0 L323.7 72.5 L324.5 72.6 L325.3 72.5 L326.1 72.1 L326.9 72.3 L327.7 73.3 L328.5 72.2 L329.3 73.0 L330.1 73.2 L330.9 72.0 L331.7 72.1 L332.5 72.7 L333.3 73.4 L334.1 73.3 L334.9 72.5 L335.7 73.0 L336.5 73.4 L337.3 73.1 L338.1 73.4 L338.9 73.8 L339.7 73.8 L340.5 74.3 L341.3 73.7 L342.1 74.3 L342.9 73.8 L343.7 74.7 L344.5 74.5 L345.3 74.8 L346.1 75.3 L346.9 74.9 L347.7 75.2 L348.5 75.3 L349.3 75.8 L350.1 75.5 L350.9 75.7 L351.7 75.7 L352.5 75.8 L353.3 75.8 L354.1 75.9 L354.9 76.0 L355.7 75.9" fill="none" stroke="#0a0a0a" stroke-width="1.05" stroke-linejoin="round" stroke-linecap="round"/>
<path d="M252.5 69.3 L253.2 69.3 L253.9 68.3 L254.6 66.5 L255.3 67.6 L256.0 66.9 L256.7 66.1 L257.4 65.4 L258.1 63.6 L258.8 61.8 L259.5 60.3 L260.2 59.9 L260.9 59.1 L261.6 57.5 L262.3 56.7 L263.0 53.2 L263.7 54.6 L264.4 54.0 L265.1 51.6 L265.8 51.0 L266.5 51.2 L267.2 48.7 L267.9 49.6 L268.6 48.3 L269.3 48.6 L270.0 50.4 L270.7 49.9 L271.4 47.6 L272.1 46.6 L272.8 46.6 L273.5 47.4 L274.2 49.1 L274.9 50.3 L275.6 51.2 L276.3 51.9 L277.0 54.8 L277.7 54.2 L278.4 56.6 L279.1 57.3 L279.8 60.7 L280.5 59.2 L281.2 60.3 L281.9 62.1 L282.6 63.2 L283.3 64.6 L284.0 64.5 L284.7 65.0 L285.4 65.3 L286.1 67.5 L286.8 68.7 L287.5 69.3 L288.2 70.4 L288.9 71.4 L289.6 70.3 L290.3 70.7 L291.0 71.1 L291.7 72.4 L292.4 72.2 L293.1 72.6 L293.8 73.3 L294.5 72.2 L295.2 72.7 L295.9 73.0 L296.6 73.6 L297.3 73.6 L298.0 74.0 L298.7 74.6 L299.4 74.5 L300.1 74.3 L300.8 73.9 L301.5 73.6 L302.2 75.0 L302.9 75.0 L303.6 74.5 L304.3 75.1 L305.0 74.9 L305.7 74.7 L306.4 74.9 L307.1 75.3 L307.8 75.3 L308.5 74.6 L309.2 75.4 L309.9 75.3 L310.6 75.6 L311.3 75.8 L312.0 75.2 L312.7 75.2 L313.4 75.5 L314.1 75.5 L314.8 75.6 L315.5 75.5 L316.2 75.2 L316.9 75.6 L317.6 75.4 L318.3 75.7 L319.0 75.2 L319.7 75.3 L320.4 75.4 L321.1 75.8 L321.8 75.3 L322.5 75.4 L323.2 75.4 L323.9 75.4 L324.6 75.4 L325.3 75.3 L326.0 75.6 L326.7 75.7 L327.4 75.4 L328.1 75.2 L328.8 75.4 L329.5 75.6 L330.2 75.7 L330.9 75.5 L331.6 75.5 L332.3 75.8 L333.0 75.8 L333.7 75.6 L334.4 75.8 L335.1 75.6 L335.8 75.7 L336.5 75.6 L337.2 76.0 L337.9 75.7 L338.6 75.7 L339.3 75.6 L340.0 75.6 L340.7 75.8 L341.4 75.6 L342.1 75.4 L342.8 75.7 L343.5 75.7 L344.2 75.8 L344.9 75.7 L345.6 75.9 L346.3 75.8 L347.0 75.6 L347.7 75.9 L348.4 76.0 L349.1 76.0 L349.8 75.8 L350.5 75.9 L351.2 75.9 L351.9 75.8 L352.6 75.9 L353.3 75.6 L354.0 76.0 L354.7 75.9 L355.4 76.0 L356.1 76.1 L356.8 75.7" fill="none" stroke="#0a0a0a" stroke-width="1.80" stroke-linejoin="round" stroke-linecap="round"/>
<path d="M250.90 39.40 H358.10" fill="none" stroke="#0a0a0a" stroke-width="1.05"/>
<path d="M357.60 39.40 V76.20" fill="none" stroke="#0a0a0a" stroke-width="1.05"/>
<path d="M249.25 76.20 H358.10" stroke="#0a0a0a" stroke-width="1.8"/>
<path d="M250.90 38.90 V77.00" stroke="#0a0a0a" stroke-width="2.30"/>
<path d="M248.05 76.20 H249.75M248.05 74.73 H249.75M248.05 73.26 H249.75M248.05 71.78 H249.75M248.05 70.31 H249.75M248.05 68.84 H249.75M248.05 67.37 H249.75M248.05 65.90 H249.75M248.05 64.42 H249.75M248.05 62.95 H249.75M248.05 61.48 H249.75M248.05 60.01 H249.75M248.05 58.54 H249.75M248.05 57.06 H249.75M248.05 55.59 H249.75M248.05 54.12 H249.75M248.05 52.65 H249.75M248.05 51.18 H249.75M248.05 49.70 H249.75M248.05 48.23 H249.75M248.05 46.76 H249.75M248.05 45.29 H249.75M248.05 43.82 H249.75M248.05 42.34 H249.75M248.05 40.87 H249.75M248.05 39.40 H249.75" stroke="#0a0a0a" stroke-width="1.0"/>
<path d="M246.85 76.20 H249.75M246.85 68.84 H249.75M246.85 61.48 H249.75M246.85 54.12 H249.75M246.85 46.76 H249.75M246.85 39.40 H249.75" stroke="#0a0a0a" stroke-width="0.9"/>
<path d="M250.90 76.20 V79.70M258.93 76.20 V78.70M263.63 76.20 V78.70M266.96 76.20 V78.70M269.55 76.20 V78.70M271.66 76.20 V78.70M273.44 76.20 V78.70M274.99 76.20 V78.70M276.35 76.20 V78.70M277.57 76.20 V79.70M285.60 76.20 V78.70M290.30 76.20 V78.70M293.63 76.20 V78.70M296.22 76.20 V78.70M298.33 76.20 V78.70M300.12 76.20 V78.70M301.66 76.20 V78.70M303.03 76.20 V78.70M304.25 76.20 V79.70M312.28 76.20 V78.70M316.98 76.20 V78.70M320.31 76.20 V78.70M322.90 76.20 V78.70M325.01 76.20 V78.70M326.79 76.20 V78.70M328.34 76.20 V78.70M329.70 76.20 V78.70M330.93 76.20 V79.70M338.95 76.20 V78.70M343.65 76.20 V78.70M346.98 76.20 V78.70M349.57 76.20 V78.70M351.68 76.20 V78.70M353.47 76.20 V78.70M355.01 76.20 V78.70M356.38 76.20 V78.70M357.60 76.20 V79.70" stroke="#0a0a0a" stroke-width="0.85"/>
<text class="b" transform="translate(252.35 87.30) scale(0.77 1)" font-size="7.6" text-anchor="end">10</text>
<text class="b" transform="translate(252.00 82.90) scale(0.92 1)" font-size="7.0">0</text>
<text class="b" transform="translate(279.02 87.30) scale(0.77 1)" font-size="7.6" text-anchor="end">10</text>
<text class="b" transform="translate(278.68 82.90) scale(0.92 1)" font-size="7.0">1</text>
<text class="b" transform="translate(305.70 87.30) scale(0.77 1)" font-size="7.6" text-anchor="end">10</text>
<text class="b" transform="translate(305.35 82.90) scale(0.92 1)" font-size="7.0">2</text>
<text class="b" transform="translate(332.38 87.30) scale(0.77 1)" font-size="7.6" text-anchor="end">10</text>
<text class="b" transform="translate(332.03 82.90) scale(0.92 1)" font-size="7.0">3</text>
<text class="b" transform="translate(359.05 87.30) scale(0.77 1)" font-size="7.6" text-anchor="end">10</text>
<text class="b" transform="translate(358.70 82.90) scale(0.92 1)" font-size="7.0">4</text>
<text transform="translate(245.35 40.30) rotate(-90) scale(0.8 1)" font-size="8.2" text-anchor="middle" style="stroke-width:0.22px">50</text>
<text class="b" transform="translate(244.35 75.70) rotate(-90) scale(0.72 1)" font-size="6.6" text-anchor="middle">0</text>
<text transform="translate(237.35 59.40) rotate(-90) scale(0.900 1)" font-size="6.7" text-anchor="middle">Counts</text>
<path d="M296.6 62.2 H356.2" stroke="#0a0a0a" stroke-width="1.1"/>
<path d="M296.6 56.0 V68.4" stroke="#0a0a0a" stroke-width="1.1"/>
<path d="M356.6 56.0 V68.4" stroke="#8a8a8a" stroke-width="2.2"/>
<text class="s" x="315.4" y="55.6" font-size="11">29<tspan x="326.9" textLength="7.7" lengthAdjust="spacingAndGlyphs">%</tspan></text>
<text class="s" x="289.0" y="112.0" font-size="13.6" textLength="32.8" lengthAdjust="spacingAndGlyphs">CD13</text>
<path d="M408.5 77.5 L408.5 77.3 L409.3 77.3 L410.1 77.0 L410.9 77.1 L411.7 76.6 L412.5 77.1 L413.3 76.5 L414.1 76.6 L414.9 76.4 L415.7 76.3 L416.5 75.8 L417.3 76.5 L418.1 76.1 L418.9 75.8 L419.7 75.0 L420.5 75.3 L421.3 74.7 L422.1 74.4 L422.9 74.3 L423.7 72.9 L424.5 72.9 L425.3 72.8 L426.1 71.6 L426.9 70.0 L427.7 70.8 L428.5 69.4 L429.3 69.6 L430.1 68.0 L430.9 69.0 L431.7 69.2 L432.5 67.9 L433.3 67.1 L434.1 66.4 L434.9 66.7 L435.7 67.5 L436.5 67.5 L437.3 67.5 L438.1 68.1 L438.9 67.7 L439.7 68.4 L440.5 67.9 L441.3 68.2 L442.1 70.1 L442.9 68.7 L443.7 71.0 L444.5 70.4 L445.3 70.1 L446.1 71.1 L446.9 71.4 L447.7 69.8 L448.5 70.7 L449.3 69.9 L450.1 68.5 L450.9 68.0 L451.7 68.0 L452.5 67.3 L453.3 67.4 L454.1 66.6 L454.9 67.2 L455.7 66.6 L456.5 65.6 L457.3 66.4 L458.1 67.6 L458.9 67.1 L459.7 66.5 L460.5 66.8 L461.3 65.2 L462.1 64.2 L462.9 63.9 L463.7 62.7 L464.5 62.7 L465.3 62.1 L466.1 61.3 L466.9 60.3 L467.7 60.2 L468.5 60.9 L469.3 61.8 L470.1 64.0 L470.9 63.6 L471.7 63.5 L472.5 65.9 L473.3 65.5 L474.1 66.7 L474.9 65.6 L475.7 67.3 L476.5 69.9 L477.3 70.2 L478.1 71.7 L478.9 71.7 L479.7 72.3 L480.5 72.9 L481.3 74.4 L482.1 74.4 L482.9 75.3 L483.7 75.6 L484.5 75.9 L485.3 75.8 L486.1 76.3 L486.9 76.6 L487.7 76.5 L488.5 76.7 L489.3 77.2 L490.1 77.2 L490.9 77.1 L491.7 77.3 L492.5 77.4 L492.5 77.5Z" fill="#b6b6b6" stroke="none"/>
<path d="M408.5 77.3 L409.3 77.3 L410.1 77.0 L410.9 77.1 L411.7 76.6 L412.5 77.1 L413.3 76.5 L414.1 76.6 L414.9 76.4 L415.7 76.3 L416.5 75.8 L417.3 76.5 L418.1 76.1 L418.9 75.8 L419.7 75.0 L420.5 75.3 L421.3 74.7 L422.1 74.4 L422.9 74.3 L423.7 72.9 L424.5 72.9 L425.3 72.8 L426.1 71.6 L426.9 70.0 L427.7 70.8 L428.5 69.4 L429.3 69.6 L430.1 68.0 L430.9 69.0 L431.7 69.2 L432.5 67.9 L433.3 67.1 L434.1 66.4 L434.9 66.7 L435.7 67.5 L436.5 67.5 L437.3 67.5 L438.1 68.1 L438.9 67.7 L439.7 68.4 L440.5 67.9 L441.3 68.2 L442.1 70.1 L442.9 68.7 L443.7 71.0 L444.5 70.4 L445.3 70.1 L446.1 71.1 L446.9 71.4 L447.7 69.8 L448.5 70.7 L449.3 69.9 L450.1 68.5 L450.9 68.0 L451.7 68.0 L452.5 67.3 L453.3 67.4 L454.1 66.6 L454.9 67.2 L455.7 66.6 L456.5 65.6 L457.3 66.4 L458.1 67.6 L458.9 67.1 L459.7 66.5 L460.5 66.8 L461.3 65.2 L462.1 64.2 L462.9 63.9 L463.7 62.7 L464.5 62.7 L465.3 62.1 L466.1 61.3 L466.9 60.3 L467.7 60.2 L468.5 60.9 L469.3 61.8 L470.1 64.0 L470.9 63.6 L471.7 63.5 L472.5 65.9 L473.3 65.5 L474.1 66.7 L474.9 65.6 L475.7 67.3 L476.5 69.9 L477.3 70.2 L478.1 71.7 L478.9 71.7 L479.7 72.3 L480.5 72.9 L481.3 74.4 L482.1 74.4 L482.9 75.3 L483.7 75.6 L484.5 75.9 L485.3 75.8 L486.1 76.3 L486.9 76.6 L487.7 76.5 L488.5 76.7 L489.3 77.2 L490.1 77.2 L490.9 77.1 L491.7 77.3 L492.5 77.4" fill="none" stroke="#0a0a0a" stroke-width="1.05" stroke-linejoin="round" stroke-linecap="round"/>
<path d="M408.5 69.6 L409.2 68.4 L409.9 69.1 L410.6 67.2 L411.3 68.2 L412.0 68.5 L412.7 66.3 L413.4 65.4 L414.1 63.3 L414.8 62.0 L415.5 61.4 L416.2 60.1 L416.9 58.7 L417.6 57.9 L418.3 55.7 L419.0 52.9 L419.7 54.8 L420.4 50.8 L421.1 50.8 L421.8 51.2 L422.5 52.6 L423.2 50.4 L423.9 49.2 L424.6 49.6 L425.3 49.6 L426.0 49.0 L426.7 47.5 L427.4 45.8 L428.1 47.1 L428.8 46.9 L429.5 46.1 L430.2 47.1 L430.9 49.6 L431.6 52.0 L432.3 53.6 L433.0 55.3 L433.7 55.9 L434.4 59.2 L435.1 58.7 L435.8 61.4 L436.5 61.9 L437.2 62.3 L437.9 64.6 L438.6 63.4 L439.3 63.7 L440.0 66.9 L440.7 67.2 L441.4 69.0 L442.1 68.8 L442.8 68.3 L443.5 69.6 L444.2 71.1 L444.9 71.3 L445.6 71.1 L446.3 71.7 L447.0 71.4 L447.7 72.2 L448.4 72.5 L449.1 73.0 L449.8 73.3 L450.5 72.1 L451.2 73.0 L451.9 73.5 L452.6 73.8 L453.3 72.7 L454.0 73.3 L454.7 73.0 L455.4 72.6 L456.1 73.8 L456.8 74.3 L457.5 74.3 L458.2 74.3 L458.9 74.6 L459.6 75.5 L460.3 75.6 L461.0 75.0 L461.7 75.2 L462.4 75.4 L463.1 75.4 L463.8 75.8 L464.5 75.7 L465.2 76.0 L465.9 75.8 L466.6 75.6 L467.3 76.0 L468.0 75.8 L468.7 76.0 L469.4 75.6 L470.1 75.9 L470.8 75.9 L471.5 76.2 L472.2 76.2 L472.9 76.3 L473.6 76.3 L474.3 76.8 L475.0 76.8 L475.7 77.0 L476.4 76.9 L477.1 77.0 L477.8 76.7 L478.5 76.9 L479.2 76.7 L479.9 76.9 L480.6 76.9 L481.3 77.1 L482.0 77.3" fill="none" stroke="#0a0a0a" stroke-width="1.80" stroke-linejoin="round" stroke-linecap="round"/>
<path d="M406.40 39.60 H514.70" fill="none" stroke="#0a0a0a" stroke-width="1.05"/>
<path d="M514.20 39.60 V77.50" fill="none" stroke="#0a0a0a" stroke-width="1.05"/>
<path d="M404.75 77.50 H514.70" stroke="#0a0a0a" stroke-width="1.8"/>
<path d="M406.40 39.10 V78.30" stroke="#0a0a0a" stroke-width="2.30"/>
<path d="M403.55 77.50 H405.25M403.55 75.98 H405.25M403.55 74.47 H405.25M403.55 72.95 H405.25M403.55 71.44 H405.25M403.55 69.92 H405.25M403.55 68.40 H405.25M403.55 66.89 H405.25M403.55 65.37 H405.25M403.55 63.86 H405.25M403.55 62.34 H405.25M403.55 60.82 H405.25M403.55 59.31 H405.25M403.55 57.79 H405.25M403.55 56.28 H405.25M403.55 54.76 H405.25M403.55 53.24 H405.25M403.55 51.73 H405.25M403.55 50.21 H405.25M403.55 48.70 H405.25M403.55 47.18 H405.25M403.55 45.66 H405.25M403.55 44.15 H405.25M403.55 42.63 H405.25M403.55 41.12 H405.25M403.55 39.60 H405.25" stroke="#0a0a0a" stroke-width="1.0"/>
<path d="M402.35 77.50 H405.25M402.35 69.92 H405.25M402.35 62.34 H405.25M402.35 54.76 H405.25M402.35 47.18 H405.25M402.35 39.60 H405.25" stroke="#0a0a0a" stroke-width="0.9"/>
<path d="M406.40 77.50 V81.00M414.51 77.50 V80.00M419.26 77.50 V80.00M422.63 77.50 V80.00M425.24 77.50 V80.00M427.37 77.50 V80.00M429.18 77.50 V80.00M430.74 77.50 V80.00M432.12 77.50 V80.00M433.35 77.50 V81.00M441.46 77.50 V80.00M446.21 77.50 V80.00M449.58 77.50 V80.00M452.19 77.50 V80.00M454.32 77.50 V80.00M456.13 77.50 V80.00M457.69 77.50 V80.00M459.07 77.50 V80.00M460.30 77.50 V81.00M468.41 77.50 V80.00M473.16 77.50 V80.00M476.53 77.50 V80.00M479.14 77.50 V80.00M481.27 77.50 V80.00M483.08 77.50 V80.00M484.64 77.50 V80.00M486.02 77.50 V80.00M487.25 77.50 V81.00M495.36 77.50 V80.00M500.11 77.50 V80.00M503.48 77.50 V80.00M506.09 77.50 V80.00M508.22 77.50 V80.00M510.03 77.50 V80.00M511.59 77.50 V80.00M512.97 77.50 V80.00M514.20 77.50 V81.00" stroke="#0a0a0a" stroke-width="0.85"/>
<text class="b" transform="translate(407.85 88.60) scale(0.77 1)" font-size="7.6" text-anchor="end">10</text>
<text class="b" transform="translate(407.50 84.20) scale(0.92 1)" font-size="7.0">0</text>
<text class="b" transform="translate(434.80 88.60) scale(0.77 1)" font-size="7.6" text-anchor="end">10</text>
<text class="b" transform="translate(434.45 84.20) scale(0.92 1)" font-size="7.0">1</text>
<text class="b" transform="translate(461.75 88.60) scale(0.77 1)" font-size="7.6" text-anchor="end">10</text>
<text class="b" transform="translate(461.40 84.20) scale(0.92 1)" font-size="7.0">2</text>
<text class="b" transform="translate(488.70 88.60) scale(0.77 1)" font-size="7.6" text-anchor="end">10</text>
<text class="b" transform="translate(488.35 84.20) scale(0.92 1)" font-size="7.0">3</text>
<text class="b" transform="translate(515.65 88.60) scale(0.77 1)" font-size="7.6" text-anchor="end">10</text>
<text class="b" transform="translate(515.30 84.20) scale(0.92 1)" font-size="7.0">4</text>
<text transform="translate(400.85 40.50) rotate(-90) scale(0.8 1)" font-size="8.2" text-anchor="middle" style="stroke-width:0.22px">50</text>
<text class="b" transform="translate(399.85 77.00) rotate(-90) scale(0.72 1)" font-size="6.6" text-anchor="middle">0</text>
<text transform="translate(392.85 60.15) rotate(-90) scale(0.900 1)" font-size="6.7" text-anchor="middle">Counts</text>
<path d="M452.6 60.6 H512.6" stroke="#0a0a0a" stroke-width="1.1"/>
<path d="M452.6 54.2 V67.0" stroke="#0a0a0a" stroke-width="1.1"/>
<path d="M513.0 54.2 V67.0" stroke="#8a8a8a" stroke-width="2.2"/>
<text class="s" x="478.4" y="55.6" font-size="11">58<tspan x="489.8" textLength="7.7" lengthAdjust="spacingAndGlyphs">%</tspan></text>
<text class="s" x="447.0" y="111.5" font-size="13.6" textLength="32.8" lengthAdjust="spacingAndGlyphs">CD19</text>
<path d="M252.5 184.1 L252.5 181.4 L253.3 180.6 L254.1 180.3 L254.9 180.6 L255.7 179.4 L256.5 179.5 L257.3 179.1 L258.1 178.8 L258.9 178.3 L259.7 176.8 L260.5 176.6 L261.3 176.8 L262.1 175.5 L262.9 174.1 L263.7 173.1 L264.5 174.4 L265.3 173.4 L266.1 172.3 L266.9 171.9 L267.7 171.8 L268.5 171.8 L269.3 171.3 L270.1 171.4 L270.9 171.0 L271.7 171.0 L272.5 170.3 L273.3 172.3 L274.1 169.8 L274.9 172.6 L275.7 173.2 L276.5 173.7 L277.3 174.8 L278.1 174.3 L278.9 174.7 L279.7 174.9 L280.5 176.2 L281.3 176.4 L282.1 177.1 L282.9 176.8 L283.7 176.6 L284.5 176.5 L285.3 178.3 L286.1 178.1 L286.9 178.5 L287.7 178.4 L288.5 178.0 L289.3 178.8 L290.1 177.6 L290.9 176.9 L291.7 177.8 L292.5 177.0 L293.3 176.0 L294.1 176.0 L294.9 176.0 L295.7 176.7 L296.5 177.5 L297.3 176.2 L298.1 176.6 L298.9 176.9 L299.7 177.4 L300.5 177.0 L301.3 177.6 L302.1 178.5 L302.9 177.1 L303.7 178.7 L304.5 178.9 L305.3 178.8 L306.1 179.3 L306.9 179.1 L307.7 179.5 L308.5 179.8 L309.3 180.5 L310.1 179.8 L310.9 180.5 L311.7 181.0 L312.5 181.1 L313.3 181.7 L314.1 181.8 L314.9 181.3 L315.7 182.2 L316.5 181.7 L317.3 181.8 L318.1 181.5 L318.9 181.4 L319.7 180.9 L320.5 181.5 L321.3 180.8 L322.1 179.4 L322.9 180.0 L323.7 178.9 L324.5 179.1 L325.3 178.5 L326.1 176.7 L326.9 175.8 L327.7 175.0 L328.5 173.4 L329.3 172.6 L330.1 171.6 L330.9 174.2 L331.7 175.4 L332.5 175.7 L333.3 177.0 L334.1 177.4 L334.9 178.9 L335.7 179.4 L336.5 180.0 L337.3 180.0 L338.1 180.7 L338.9 181.9 L339.7 182.9 L340.5 183.1 L340.5 184.1Z" fill="#b6b6b6" stroke="none"/>
<path d="M252.5 181.4 L253.3 180.6 L254.1 180.3 L254.9 180.6 L255.7 179.4 L256.5 179.5 L257.3 179.1 L258.1 178.8 L258.9 178.3 L259.7 176.8 L260.5 176.6 L261.3 176.8 L262.1 175.5 L262.9 174.1 L263.7 173.1 L264.5 174.4 L265.3 173.4 L266.1 172.3 L266.9 171.9 L267.7 171.8 L268.5 171.8 L269.3 171.3 L270.1 171.4 L270.9 171.0 L271.7 171.0 L272.5 170.3 L273.3 172.3 L274.1 169.8 L274.9 172.6 L275.7 173.2 L276.5 173.7 L277.3 174.8 L278.1 174.3 L278.9 174.7 L279.7 174.9 L280.5 176.2 L281.3 176.4 L282.1 177.1 L282.9 176.8 L283.7 176.6 L284.5 176.5 L285.3 178.3 L286.1 178.1 L286.9 178.5 L287.7 178.4 L288.5 178.0 L289.3 178.8 L290.1 177.6 L290.9 176.9 L291.7 177.8 L292.5 177.0 L293.3 176.0 L294.1 176.0 L294.9 176.0 L295.7 176.7 L296.5 177.5 L297.3 176.2 L298.1 176.6 L298.9 176.9 L299.7 177.4 L300.5 177.0 L301.3 177.6 L302.1 178.5 L302.9 177.1 L303.7 178.7 L304.5 178.9 L305.3 178.8 L306.1 179.3 L306.9 179.1 L307.7 179.5 L308.5 179.8 L309.3 180.5 L310.1 179.8 L310.9 180.5 L311.7 181.0 L312.5 181.1 L313.3 181.7 L314.1 181.8 L314.9 181.3 L315.7 182.2 L316.5 181.7 L317.3 181.8 L318.1 181.5 L318.9 181.4 L319.7 180.9 L320.5 181.5 L321.3 180.8 L322.1 179.4 L322.9 180.0 L323.7 178.9 L324.5 179.1 L325.3 178.5 L326.1 176.7 L326.9 175.8 L327.7 175.0 L328.5 173.4 L329.3 172.6 L330.1 171.6 L330.9 174.2 L331.7 175.4 L332.5 175.7 L333.3 177.0 L334.1 177.4 L334.9 178.9 L335.7 179.4 L336.5 180.0 L337.3 180.0 L338.1 180.7 L338.9 181.9 L339.7 182.9 L340.5 183.1" fill="none" stroke="#0a0a0a" stroke-width="1.05" stroke-linejoin="round" stroke-linecap="round"/>
<path d="M252.5 175.2 L253.2 176.6 L253.9 177.2 L254.6 175.2 L255.3 174.7 L256.0 172.6 L256.7 173.1 L257.4 170.6 L258.1 171.0 L258.8 170.1 L259.5 167.9 L260.2 166.7 L260.9 166.0 L261.6 164.4 L262.3 163.3 L263.0 162.0 L263.7 160.5 L264.4 159.7 L265.1 158.7 L265.8 157.2 L266.5 158.1 L267.2 159.1 L267.9 156.6 L268.6 157.3 L269.3 155.5 L270.0 155.6 L270.7 156.1 L271.4 154.4 L272.1 154.6 L272.8 153.4 L273.5 152.5 L274.2 151.7 L274.9 154.1 L275.6 155.4 L276.3 159.1 L277.0 159.5 L277.7 160.9 L278.4 162.5 L279.1 165.3 L279.8 165.1 L280.5 167.1 L281.2 168.0 L281.9 168.1 L282.6 169.7 L283.3 169.5 L284.0 171.7 L284.7 171.1 L285.4 171.6 L286.1 172.5 L286.8 173.5 L287.5 174.3 L288.2 176.4 L288.9 177.4 L289.6 177.5 L290.3 177.7 L291.0 178.8 L291.7 179.3 L292.4 179.1 L293.1 178.9 L293.8 179.0 L294.5 180.6 L295.2 180.1 L295.9 180.6 L296.6 180.7 L297.3 180.8 L298.0 180.9 L298.7 181.0 L299.4 181.1 L300.1 180.5 L300.8 180.3 L301.5 181.0 L302.2 181.2 L302.9 181.5 L303.6 181.1 L304.3 181.4 L305.0 181.9 L305.7 181.8 L306.4 181.8 L307.1 181.5 L307.8 182.3 L308.5 182.2 L309.2 182.1 L309.9 182.8 L310.6 182.5 L311.3 182.7 L312.0 182.4 L312.7 183.0 L313.4 182.6 L314.1 183.0 L314.8 182.9 L315.5 183.1 L316.2 183.1 L316.9 183.1 L317.6 182.8 L318.3 183.1 L319.0 183.2 L319.7 183.4 L320.4 183.5 L321.1 183.5 L321.8 183.4" fill="none" stroke="#0a0a0a" stroke-width="1.80" stroke-linejoin="round" stroke-linecap="round"/>
<path d="M251.00 145.70 H360.00" fill="none" stroke="#0a0a0a" stroke-width="1.05"/>
<path d="M359.50 145.70 V184.10" fill="none" stroke="#0a0a0a" stroke-width="1.05"/>
<path d="M249.35 184.10 H360.00" stroke="#0a0a0a" stroke-width="1.8"/>
<path d="M251.00 145.20 V184.90" stroke="#0a0a0a" stroke-width="2.30"/>
<path d="M248.15 184.10 H249.85M248.15 182.56 H249.85M248.15 181.03 H249.85M248.15 179.49 H249.85M248.15 177.96 H249.85M248.15 176.42 H249.85M248.15 174.88 H249.85M248.15 173.35 H249.85M248.15 171.81 H249.85M248.15 170.28 H249.85M248.15 168.74 H249.85M248.15 167.20 H249.85M248.15 165.67 H249.85M248.15 164.13 H249.85M248.15 162.60 H249.85M248.15 161.06 H249.85M248.15 159.52 H249.85M248.15 157.99 H249.85M248.15 156.45 H249.85M248.15 154.92 H249.85M248.15 153.38 H249.85M248.15 151.84 H249.85M248.15 150.31 H249.85M248.15 148.77 H249.85M248.15 147.24 H249.85M248.15 145.70 H249.85" stroke="#0a0a0a" stroke-width="1.0"/>
<path d="M246.95 184.10 H249.85M246.95 176.42 H249.85M246.95 168.74 H249.85M246.95 161.06 H249.85M246.95 153.38 H249.85M246.95 145.70 H249.85" stroke="#0a0a0a" stroke-width="0.9"/>
<path d="M251.00 184.10 V187.60M259.17 184.10 V186.60M263.94 184.10 V186.60M267.33 184.10 V186.60M269.96 184.10 V186.60M272.11 184.10 V186.60M273.92 184.10 V186.60M275.50 184.10 V186.60M276.88 184.10 V186.60M278.12 184.10 V187.60M286.29 184.10 V186.60M291.07 184.10 V186.60M294.46 184.10 V186.60M297.08 184.10 V186.60M299.23 184.10 V186.60M301.05 184.10 V186.60M302.62 184.10 V186.60M304.01 184.10 V186.60M305.25 184.10 V187.60M313.42 184.10 V186.60M318.19 184.10 V186.60M321.58 184.10 V186.60M324.21 184.10 V186.60M326.36 184.10 V186.60M328.17 184.10 V186.60M329.75 184.10 V186.60M331.13 184.10 V186.60M332.38 184.10 V187.60M340.54 184.10 V186.60M345.32 184.10 V186.60M348.71 184.10 V186.60M351.33 184.10 V186.60M353.48 184.10 V186.60M355.30 184.10 V186.60M356.87 184.10 V186.60M358.26 184.10 V186.60M359.50 184.10 V187.60" stroke="#0a0a0a" stroke-width="0.85"/>
<text class="b" transform="translate(252.45 195.20) scale(0.77 1)" font-size="7.6" text-anchor="end">10</text>
<text class="b" transform="translate(252.10 190.80) scale(0.92 1)" font-size="7.0">0</text>
<text class="b" transform="translate(279.57 195.20) scale(0.77 1)" font-size="7.6" text-anchor="end">10</text>
<text class="b" transform="translate(279.23 190.80) scale(0.92 1)" font-size="7.0">1</text>
<text class="b" transform="translate(306.70 195.20) scale(0.77 1)" font-size="7.6" text-anchor="end">10</text>
<text class="b" transform="translate(306.35 190.80) scale(0.92 1)" font-size="7.0">2</text>
<text class="b" transform="translate(333.82 195.20) scale(0.77 1)" font-size="7.6" text-anchor="end">10</text>
<text class="b" transform="translate(333.48 190.80) scale(0.92 1)" font-size="7.0">3</text>
<text class="b" transform="translate(360.95 195.20) scale(0.77 1)" font-size="7.6" text-anchor="end">10</text>
<text class="b" transform="translate(360.60 190.80) scale(0.92 1)" font-size="7.0">4</text>
<text transform="translate(245.45 146.60) rotate(-90) scale(0.8 1)" font-size="8.2" text-anchor="middle" style="stroke-width:0.22px">50</text>
<text class="b" transform="translate(244.45 183.60) rotate(-90) scale(0.72 1)" font-size="6.6" text-anchor="middle">0</text>
<text transform="translate(237.45 166.50) rotate(-90) scale(0.900 1)" font-size="6.7" text-anchor="middle">Counts</text>
<path d="M296.8 165.2 H356.9" stroke="#0a0a0a" stroke-width="1.1"/>
<path d="M296.8 158.6 V171.8" stroke="#0a0a0a" stroke-width="1.1"/>
<path d="M356.9 158.6 V171.8" stroke="#0a0a0a" stroke-width="1.1"/>
<text class="s" x="317.3" y="160.4" font-size="11">38<tspan x="328.7" textLength="7.7" lengthAdjust="spacingAndGlyphs">%</tspan></text>
<text class="s" x="286.6" y="219.8" font-size="13.6" textLength="32.8" lengthAdjust="spacingAndGlyphs">CD33</text>
<path d="M408.5 184.4 L408.5 179.5 L409.3 177.9 L410.1 178.3 L410.9 175.6 L411.7 176.6 L412.5 176.2 L413.3 176.4 L414.1 175.1 L414.9 173.1 L415.7 173.5 L416.5 171.4 L417.3 171.0 L418.1 170.8 L418.9 169.1 L419.7 168.3 L420.5 167.8 L421.3 164.7 L422.1 166.7 L422.9 164.8 L423.7 164.1 L424.5 165.0 L425.3 164.9 L426.1 163.1 L426.9 163.1 L427.7 162.0 L428.5 162.8 L429.3 163.4 L430.1 163.9 L430.9 164.1 L431.7 166.9 L432.5 168.1 L433.3 168.5 L434.1 170.9 L434.9 172.0 L435.7 171.8 L436.5 172.9 L437.3 174.8 L438.1 175.3 L438.9 175.0 L439.7 175.9 L440.5 177.6 L441.3 178.4 L442.1 178.7 L442.9 180.3 L443.7 180.2 L444.5 180.8 L445.3 181.2 L446.1 182.1 L446.9 181.4 L447.7 182.2 L448.5 182.8 L449.3 183.0 L450.1 182.5 L450.9 182.4 L451.7 182.7 L452.5 182.4 L453.3 182.5 L454.1 182.7 L454.9 183.0 L455.7 182.7 L456.5 182.7 L457.3 183.2 L458.1 183.0 L458.9 183.1 L459.7 183.3 L460.5 183.3 L461.3 183.4 L462.1 183.3 L462.9 183.0 L463.7 183.1 L464.5 183.2 L465.3 183.2 L466.1 183.3 L466.9 183.4 L467.7 183.6 L468.5 183.5 L469.3 183.2 L470.1 183.7 L470.9 183.2 L471.7 183.6 L472.5 183.3 L473.3 183.0 L474.1 182.8 L474.9 182.6 L475.7 182.8 L476.5 182.8 L477.3 182.2 L478.1 182.8 L478.9 182.8 L479.7 182.8 L480.5 181.6 L481.3 181.9 L482.1 182.0 L482.9 182.5 L483.7 182.6 L484.5 182.5 L485.3 182.6 L486.1 182.2 L486.9 181.6 L487.7 181.8 L488.5 182.0 L489.3 182.3 L490.1 182.3 L490.9 182.2 L491.7 181.7 L492.5 181.4 L493.3 181.4 L494.1 181.4 L494.9 181.9 L495.7 182.0 L496.5 182.7 L497.3 182.4 L498.1 182.0 L498.9 182.4 L499.7 181.9 L500.5 181.7 L501.3 181.9 L502.1 182.9 L502.9 182.3 L503.7 183.4 L504.5 183.4 L505.3 183.8 L505.3 184.4Z" fill="#b6b6b6" stroke="none"/>
<path d="M408.5 179.5 L409.3 177.9 L410.1 178.3 L410.9 175.6 L411.7 176.6 L412.5 176.2 L413.3 176.4 L414.1 175.1 L414.9 173.1 L415.7 173.5 L416.5 171.4 L417.3 171.0 L418.1 170.8 L418.9 169.1 L419.7 168.3 L420.5 167.8 L421.3 164.7 L422.1 166.7 L422.9 164.8 L423.7 164.1 L424.5 165.0 L425.3 164.9 L426.1 163.1 L426.9 163.1 L427.7 162.0 L428.5 162.8 L429.3 163.4 L430.1 163.9 L430.9 164.1 L431.7 166.9 L432.5 168.1 L433.3 168.5 L434.1 170.9 L434.9 172.0 L435.7 171.8 L436.5 172.9 L437.3 174.8 L438.1 175.3 L438.9 175.0 L439.7 175.9 L440.5 177.6 L441.3 178.4 L442.1 178.7 L442.9 180.3 L443.7 180.2 L444.5 180.8 L445.3 181.2 L446.1 182.1 L446.9 181.4 L447.7 182.2 L448.5 182.8 L449.3 183.0 L450.1 182.5 L450.9 182.4 L451.7 182.7 L452.5 182.4 L453.3 182.5 L454.1 182.7 L454.9 183.0 L455.7 182.7 L456.5 182.7 L457.3 183.2 L458.1 183.0 L458.9 183.1 L459.7 183.3 L460.5 183.3 L461.3 183.4 L462.1 183.3 L462.9 183.0 L463.7 183.1 L464.5 183.2 L465.3 183.2 L466.1 183.3 L466.9 183.4 L467.7 183.6 L468.5 183.5 L469.3 183.2 L470.1 183.7 L470.9 183.2 L471.7 183.6 L472.5 183.3 L473.3 183.0 L474.1 182.8 L474.9 182.6 L475.7 182.8 L476.5 182.8 L477.3 182.2 L478.1 182.8 L478.9 182.8 L479.7 182.8 L480.5 181.6 L481.3 181.9 L482.1 182.0 L482.9 182.5 L483.7 182.6 L484.5 182.5 L485.3 182.6 L486.1 182.2 L486.9 181.6 L487.7 181.8 L488.5 182.0 L489.3 182.3 L490.1 182.3 L490.9 182.2 L491.7 181.7 L492.5 181.4 L493.3 181.4 L494.1 181.4 L494.9 181.9 L495.7 182.0 L496.5 182.7 L497.3 182.4 L498.1 182.0 L498.9 182.4 L499.7 181.9 L500.5 181.7 L501.3 181.9 L502.1 182.9 L502.9 182.3 L503.7 183.4 L504.5 183.4 L505.3 183.8" fill="none" stroke="#0a0a0a" stroke-width="1.05" stroke-linejoin="round" stroke-linecap="round"/>
<path d="M408.5 176.3 L409.2 175.6 L409.9 175.0 L410.6 174.9 L411.3 174.0 L412.0 172.8 L412.7 172.7 L413.4 171.4 L414.1 170.5 L414.8 171.4 L415.5 169.9 L416.2 170.2 L416.9 166.9 L417.6 164.7 L418.3 163.3 L419.0 161.9 L419.7 160.1 L420.4 159.8 L421.1 159.3 L421.8 156.5 L422.5 156.4 L423.2 157.8 L423.9 158.6 L424.6 155.0 L425.3 157.0 L426.0 157.5 L426.7 154.9 L427.4 154.9 L428.1 152.0 L428.8 154.5 L429.5 153.2 L430.2 152.6 L430.9 155.3 L431.6 155.9 L432.3 159.5 L433.0 157.5 L433.7 161.2 L434.4 161.0 L435.1 163.9 L435.8 164.7 L436.5 166.4 L437.2 166.9 L437.9 167.4 L438.6 169.1 L439.3 169.5 L440.0 169.6 L440.7 170.4 L441.4 173.1 L442.1 174.6 L442.8 174.8 L443.5 175.4 L444.2 175.3 L444.9 175.8 L445.6 177.0 L446.3 177.3 L447.0 177.5 L447.7 179.5 L448.4 180.1 L449.1 179.1 L449.8 179.7 L450.5 180.0 L451.2 180.6 L451.9 181.5 L452.6 181.9 L453.3 181.5 L454.0 180.5 L454.7 181.4 L455.4 182.1 L456.1 182.0 L456.8 182.3 L457.5 182.1 L458.2 182.3 L458.9 182.0 L459.6 182.8 L460.3 182.6 L461.0 182.3 L461.7 182.6 L462.4 182.8 L463.1 182.9 L463.8 182.7 L464.5 182.5 L465.2 182.6 L465.9 182.5 L466.6 183.0 L467.3 182.8 L468.0 182.9 L468.7 183.2 L469.4 183.0 L470.1 182.9 L470.8 183.1 L471.5 183.8 L472.2 183.4 L472.9 183.3 L473.6 183.5 L474.3 183.5 L475.0 183.8 L475.7 183.9 L476.4 183.9 L477.1 183.9 L477.8 184.1 L478.5 184.3 L479.2 184.4 L479.9 184.2" fill="none" stroke="#0a0a0a" stroke-width="1.80" stroke-linejoin="round" stroke-linecap="round"/>
<path d="M406.60 145.60 H515.30" fill="none" stroke="#0a0a0a" stroke-width="1.05"/>
<path d="M514.80 145.60 V184.40" fill="none" stroke="#7a7a7a" stroke-width="1.70"/>
<path d="M404.95 184.40 H515.30" stroke="#0a0a0a" stroke-width="1.8"/>
<path d="M406.60 145.10 V185.20" stroke="#0a0a0a" stroke-width="2.30"/>
<path d="M403.75 184.40 H405.45M403.75 182.85 H405.45M403.75 181.30 H405.45M403.75 179.74 H405.45M403.75 178.19 H405.45M403.75 176.64 H405.45M403.75 175.09 H405.45M403.75 173.54 H405.45M403.75 171.98 H405.45M403.75 170.43 H405.45M403.75 168.88 H405.45M403.75 167.33 H405.45M403.75 165.78 H405.45M403.75 164.22 H405.45M403.75 162.67 H405.45M403.75 161.12 H405.45M403.75 159.57 H405.45M403.75 158.02 H405.45M403.75 156.46 H405.45M403.75 154.91 H405.45M403.75 153.36 H405.45M403.75 151.81 H405.45M403.75 150.26 H405.45M403.75 148.70 H405.45M403.75 147.15 H405.45M403.75 145.60 H405.45" stroke="#0a0a0a" stroke-width="1.0"/>
<path d="M402.55 184.40 H405.45M402.55 176.64 H405.45M402.55 168.88 H405.45M402.55 161.12 H405.45M402.55 153.36 H405.45M402.55 145.60 H405.45" stroke="#0a0a0a" stroke-width="0.9"/>
<path d="M406.60 184.40 V187.90M414.74 184.40 V186.90M419.51 184.40 V186.90M422.89 184.40 V186.90M425.51 184.40 V186.90M427.65 184.40 V186.90M429.46 184.40 V186.90M431.03 184.40 V186.90M432.41 184.40 V186.90M433.65 184.40 V187.90M441.79 184.40 V186.90M446.56 184.40 V186.90M449.94 184.40 V186.90M452.56 184.40 V186.90M454.70 184.40 V186.90M456.51 184.40 V186.90M458.08 184.40 V186.90M459.46 184.40 V186.90M460.70 184.40 V187.90M468.84 184.40 V186.90M473.61 184.40 V186.90M476.99 184.40 V186.90M479.61 184.40 V186.90M481.75 184.40 V186.90M483.56 184.40 V186.90M485.13 184.40 V186.90M486.51 184.40 V186.90M487.75 184.40 V187.90M495.89 184.40 V186.90M500.66 184.40 V186.90M504.04 184.40 V186.90M506.66 184.40 V186.90M508.80 184.40 V186.90M510.61 184.40 V186.90M512.18 184.40 V186.90M513.56 184.40 V186.90M514.80 184.40 V187.90" stroke="#0a0a0a" stroke-width="0.85"/>
<text class="b" transform="translate(408.05 195.50) scale(0.77 1)" font-size="7.6" text-anchor="end">10</text>
<text class="b" transform="translate(407.70 191.10) scale(0.92 1)" font-size="7.0">0</text>
<text class="b" transform="translate(435.10 195.50) scale(0.77 1)" font-size="7.6" text-anchor="end">10</text>
<text class="b" transform="translate(434.75 191.10) scale(0.92 1)" font-size="7.0">1</text>
<text class="b" transform="translate(462.15 195.50) scale(0.77 1)" font-size="7.6" text-anchor="end">10</text>
<text class="b" transform="translate(461.80 191.10) scale(0.92 1)" font-size="7.0">2</text>
<text class="b" transform="translate(489.20 195.50) scale(0.77 1)" font-size="7.6" text-anchor="end">10</text>
<text class="b" transform="translate(488.85 191.10) scale(0.92 1)" font-size="7.0">3</text>
<text class="b" transform="translate(516.25 195.50) scale(0.77 1)" font-size="7.6" text-anchor="end">10</text>
<text class="b" transform="translate(515.90 191.10) scale(0.92 1)" font-size="7.0">4</text>
<text transform="translate(401.05 146.50) rotate(-90) scale(0.8 1)" font-size="8.2" text-anchor="middle" style="stroke-width:0.22px">50</text>
<text class="b" transform="translate(400.05 183.90) rotate(-90) scale(0.72 1)" font-size="6.6" text-anchor="middle">0</text>
<text transform="translate(393.05 166.60) rotate(-90) scale(0.900 1)" font-size="6.7" text-anchor="middle">Counts</text>
<path d="M453.2 167.8 H513.0" stroke="#333" stroke-width="1.1"/>
<path d="M453.2 161.4 V174.2" stroke="#333" stroke-width="1.1"/>
<path d="M513.4 161.4 V174.2" stroke="#8a8a8a" stroke-width="2.2"/>
<text class="s" x="471.3" y="161.0" font-size="11">12<tspan x="482.7" textLength="7.7" lengthAdjust="spacingAndGlyphs">%</tspan></text>
<text class="s" x="452.4" y="218.5" font-size="13.6" textLength="32.8" lengthAdjust="spacingAndGlyphs">CD14</text>
<path d="M254.2 291.5 L254.2 286.2 L255.0 286.1 L255.8 286.2 L256.6 285.4 L257.4 285.4 L258.2 284.3 L259.0 284.6 L259.8 284.8 L260.6 283.6 L261.4 283.5 L262.2 281.7 L263.0 281.4 L263.8 282.6 L264.6 279.8 L265.4 280.4 L266.2 279.8 L267.0 280.7 L267.8 279.9 L268.6 280.1 L269.4 281.1 L270.2 278.9 L271.0 280.3 L271.8 281.3 L272.6 280.3 L273.4 281.0 L274.2 279.1 L275.0 279.2 L275.8 278.4 L276.6 277.6 L277.4 277.9 L278.2 277.8 L279.0 276.4 L279.8 278.9 L280.6 279.5 L281.4 279.9 L282.2 280.8 L283.0 279.8 L283.8 279.3 L284.6 278.6 L285.4 278.9 L286.2 279.6 L287.0 281.5 L287.8 281.9 L288.6 282.1 L289.4 282.6 L290.2 284.1 L291.0 284.4 L291.8 284.5 L292.6 283.8 L293.4 285.0 L294.2 286.1 L295.0 285.8 L295.8 285.8 L296.6 285.2 L297.4 286.0 L298.2 286.9 L299.0 286.4 L299.8 285.7 L300.6 285.6 L301.4 286.8 L302.2 286.1 L303.0 287.6 L303.8 287.0 L304.6 286.8 L305.4 287.1 L306.2 287.0 L307.0 288.6 L307.8 287.5 L308.6 287.4 L309.4 287.2 L310.2 288.3 L311.0 287.8 L311.8 287.4 L312.6 287.4 L313.4 288.1 L314.2 288.7 L315.0 289.3 L315.8 289.0 L316.6 288.2 L317.4 289.1 L318.2 288.8 L319.0 289.4 L319.8 288.6 L320.6 288.1 L321.4 288.3 L322.2 289.4 L323.0 288.9 L323.8 289.5 L324.6 290.1 L325.4 290.5 L326.2 290.0 L327.0 290.7 L327.8 291.4 L327.8 291.5Z" fill="#b6b6b6" stroke="none"/>
<path d="M254.2 286.2 L255.0 286.1 L255.8 286.2 L256.6 285.4 L257.4 285.4 L258.2 284.3 L259.0 284.6 L259.8 284.8 L260.6 283.6 L261.4 283.5 L262.2 281.7 L263.0 281.4 L263.8 282.6 L264.6 279.8 L265.4 280.4 L266.2 279.8 L267.0 280.7 L267.8 279.9 L268.6 280.1 L269.4 281.1 L270.2 278.9 L271.0 280.3 L271.8 281.3 L272.6 280.3 L273.4 281.0 L274.2 279.1 L275.0 279.2 L275.8 278.4 L276.6 277.6 L277.4 277.9 L278.2 277.8 L279.0 276.4 L279.8 278.9 L280.6 279.5 L281.4 279.9 L282.2 280.8 L283.0 279.8 L283.8 279.3 L284.6 278.6 L285.4 278.9 L286.2 279.6 L287.0 281.5 L287.8 281.9 L288.6 282.1 L289.4 282.6 L290.2 284.1 L291.0 284.4 L291.8 284.5 L292.6 283.8 L293.4 285.0 L294.2 286.1 L295.0 285.8 L295.8 285.8 L296.6 285.2 L297.4 286.0 L298.2 286.9 L299.0 286.4 L299.8 285.7 L300.6 285.6 L301.4 286.8 L302.2 286.1 L303.0 287.6 L303.8 287.0 L304.6 286.8 L305.4 287.1 L306.2 287.0 L307.0 288.6 L307.8 287.5 L308.6 287.4 L309.4 287.2 L310.2 288.3 L311.0 287.8 L311.8 287.4 L312.6 287.4 L313.4 288.1 L314.2 288.7 L315.0 289.3 L315.8 289.0 L316.6 288.2 L317.4 289.1 L318.2 288.8 L319.0 289.4 L319.8 288.6 L320.6 288.1 L321.4 288.3 L322.2 289.4 L323.0 288.9 L323.8 289.5 L324.6 290.1 L325.4 290.5 L326.2 290.0 L327.0 290.7 L327.8 291.4" fill="none" stroke="#0a0a0a" stroke-width="1.05" stroke-linejoin="round" stroke-linecap="round"/>
<path d="M254.0 274.5 L254.7 277.5 L255.4 278.4 L256.1 276.5 L256.8 278.5 L257.5 278.8 L258.2 276.4 L258.9 275.5 L259.6 274.2 L260.3 275.3 L261.0 273.4 L261.7 272.1 L262.4 269.5 L263.1 269.7 L263.8 268.7 L264.5 268.5 L265.2 268.2 L265.9 269.9 L266.6 268.7 L267.3 268.1 L268.0 268.3 L268.7 270.5 L269.4 269.7 L270.1 269.4 L270.8 271.5 L271.5 267.6 L272.2 267.9 L272.9 269.1 L273.6 269.3 L274.3 270.0 L275.0 271.2 L275.7 271.5 L276.4 274.9 L277.1 274.5 L277.8 275.4 L278.5 274.9 L279.2 276.4 L279.9 276.0 L280.6 277.5 L281.3 278.1 L282.0 280.1 L282.7 280.4 L283.4 280.7 L284.1 282.6 L284.8 282.8 L285.5 283.2 L286.2 283.5 L286.9 284.9 L287.6 285.1 L288.3 285.2 L289.0 285.8 L289.7 286.7 L290.4 287.5 L291.1 287.2 L291.8 287.8 L292.5 288.8 L293.2 288.5 L293.9 288.6 L294.6 288.8 L295.3 289.1 L296.0 288.7 L296.7 289.1 L297.4 289.0 L298.1 289.7 L298.8 289.1 L299.5 288.5 L300.2 289.0 L300.9 288.7 L301.6 288.9 L302.3 289.0 L303.0 289.7 L303.7 289.9 L304.4 289.9 L305.1 289.3 L305.8 289.4 L306.5 289.8 L307.2 289.8 L307.9 290.2 L308.6 290.0 L309.3 290.5 L310.0 289.7 L310.7 290.2 L311.4 289.9 L312.1 289.8 L312.8 290.3 L313.5 290.6 L314.2 290.9 L314.9 290.5 L315.6 290.5 L316.3 290.7 L317.0 290.5 L317.7 290.6 L318.4 290.7 L319.1 290.8 L319.8 290.8 L320.5 290.8 L321.2 291.2 L321.9 290.5 L322.6 291.1 L323.3 290.6 L324.0 291.0 L324.7 290.8 L325.4 291.1 L326.1 291.0 L326.8 291.2 L327.5 291.0 L328.2 291.0 L328.9 290.9 L329.6 291.1 L330.3 290.9 L331.0 291.1 L331.7 290.9 L332.4 291.2 L333.1 291.1 L333.8 291.2" fill="none" stroke="#0a0a0a" stroke-width="1.80" stroke-linejoin="round" stroke-linecap="round"/>
<path d="M252.30 254.60 H360.80" fill="none" stroke="#0a0a0a" stroke-width="1.05"/>
<path d="M360.30 254.60 V291.50" fill="none" stroke="#0a0a0a" stroke-width="1.05"/>
<path d="M250.10 291.50 H360.80" stroke="#0a0a0a" stroke-width="1.8"/>
<path d="M252.30 254.10 V292.30" stroke="#0a0a0a" stroke-width="3.40"/>
<path d="M248.90 291.50 H250.60M248.90 290.02 H250.60M248.90 288.55 H250.60M248.90 287.07 H250.60M248.90 285.60 H250.60M248.90 284.12 H250.60M248.90 282.64 H250.60M248.90 281.17 H250.60M248.90 279.69 H250.60M248.90 278.22 H250.60M248.90 276.74 H250.60M248.90 275.26 H250.60M248.90 273.79 H250.60M248.90 272.31 H250.60M248.90 270.84 H250.60M248.90 269.36 H250.60M248.90 267.88 H250.60M248.90 266.41 H250.60M248.90 264.93 H250.60M248.90 263.46 H250.60M248.90 261.98 H250.60M248.90 260.50 H250.60M248.90 259.03 H250.60M248.90 257.55 H250.60M248.90 256.08 H250.60M248.90 254.60 H250.60" stroke="#0a0a0a" stroke-width="1.0"/>
<path d="M247.70 291.50 H250.60M247.70 284.12 H250.60M247.70 276.74 H250.60M247.70 269.36 H250.60M247.70 261.98 H250.60M247.70 254.60 H250.60" stroke="#0a0a0a" stroke-width="0.9"/>
<path d="M252.30 291.50 V295.00M260.43 291.50 V294.00M265.18 291.50 V294.00M268.56 291.50 V294.00M271.17 291.50 V294.00M273.31 291.50 V294.00M275.12 291.50 V294.00M276.68 291.50 V294.00M278.06 291.50 V294.00M279.30 291.50 V295.00M287.43 291.50 V294.00M292.18 291.50 V294.00M295.56 291.50 V294.00M298.17 291.50 V294.00M300.31 291.50 V294.00M302.12 291.50 V294.00M303.68 291.50 V294.00M305.06 291.50 V294.00M306.30 291.50 V295.00M314.43 291.50 V294.00M319.18 291.50 V294.00M322.56 291.50 V294.00M325.17 291.50 V294.00M327.31 291.50 V294.00M329.12 291.50 V294.00M330.68 291.50 V294.00M332.06 291.50 V294.00M333.30 291.50 V295.00M341.43 291.50 V294.00M346.18 291.50 V294.00M349.56 291.50 V294.00M352.17 291.50 V294.00M354.31 291.50 V294.00M356.12 291.50 V294.00M357.68 291.50 V294.00M359.06 291.50 V294.00M360.30 291.50 V295.00" stroke="#0a0a0a" stroke-width="0.85"/>
<text class="b" transform="translate(253.75 302.60) scale(0.77 1)" font-size="7.6" text-anchor="end">10</text>
<text class="b" transform="translate(253.40 298.20) scale(0.92 1)" font-size="7.0">0</text>
<text class="b" transform="translate(280.75 302.60) scale(0.77 1)" font-size="7.6" text-anchor="end">10</text>
<text class="b" transform="translate(280.40 298.20) scale(0.92 1)" font-size="7.0">1</text>
<text class="b" transform="translate(307.75 302.60) scale(0.77 1)" font-size="7.6" text-anchor="end">10</text>
<text class="b" transform="translate(307.40 298.20) scale(0.92 1)" font-size="7.0">2</text>
<text class="b" transform="translate(334.75 302.60) scale(0.77 1)" font-size="7.6" text-anchor="end">10</text>
<text class="b" transform="translate(334.40 298.20) scale(0.92 1)" font-size="7.0">3</text>
<text class="b" transform="translate(361.75 302.60) scale(0.77 1)" font-size="7.6" text-anchor="end">10</text>
<text class="b" transform="translate(361.40 298.20) scale(0.92 1)" font-size="7.0">4</text>
<text transform="translate(246.20 255.50) rotate(-90) scale(0.8 1)" font-size="8.2" text-anchor="middle" style="stroke-width:0.22px">50</text>
<text class="b" transform="translate(245.20 291.00) rotate(-90) scale(0.72 1)" font-size="6.6" text-anchor="middle">0</text>
<text transform="translate(238.20 274.65) rotate(-90) scale(0.900 1)" font-size="6.7" text-anchor="middle" font-style="italic">Counts</text>
<path d="M302.2 276.5 H357.1" stroke="#333" stroke-width="1.1"/>
<path d="M302.2 269.9 V283.1" stroke="#333" stroke-width="1.1"/>
<path d="M357.1 269.9 V283.1" stroke="#333" stroke-width="1.1"/>
<text class="s" x="321.9" y="270.5" font-size="11">8<tspan x="328.3" textLength="7.7" lengthAdjust="spacingAndGlyphs">%</tspan></text>
<text class="s" x="292.3" y="324.0" font-size="13.6" textLength="32.8" lengthAdjust="spacingAndGlyphs">CD34</text>
</svg></body></html>
